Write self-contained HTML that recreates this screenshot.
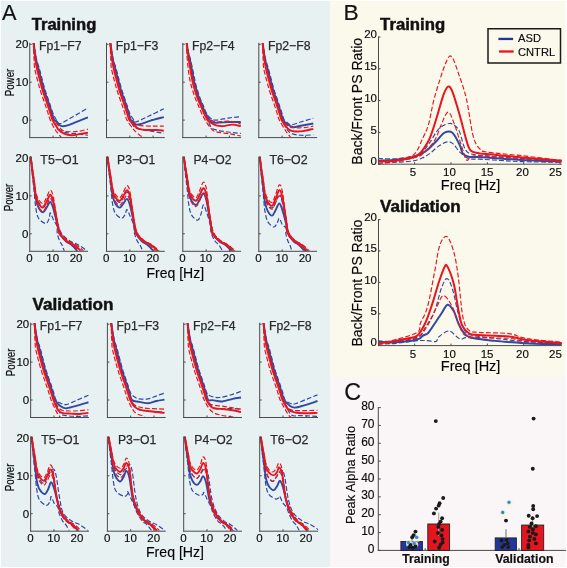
<!DOCTYPE html>
<html><head><meta charset="utf-8"><style>
html,body{margin:0;padding:0;background:#fff;}
svg{display:block;will-change:transform}
text{font-family:"Liberation Sans", sans-serif;}
</style></head><body>
<svg width="567" height="568" viewBox="0 0 567 568">
<rect x="1.00" y="1.00" width="329.00" height="566.00" fill="#e8f1f2"/>
<rect x="330.00" y="1.00" width="236.00" height="377.00" fill="#fbf8ec"/>
<rect x="330.00" y="377.50" width="236.00" height="189.50" fill="#faf6f7"/>
<text x="2.00" y="20.00" font-size="22.5" text-anchor="start" textLength="14.5" lengthAdjust="spacingAndGlyphs" fill="#111" stroke="#111" stroke-width="0.18">A</text>
<text x="343.40" y="19.50" font-size="22.5" text-anchor="start" textLength="15.2" lengthAdjust="spacingAndGlyphs" fill="#111" stroke="#111" stroke-width="0.18">B</text>
<text x="344.20" y="399.80" font-size="24" text-anchor="start" textLength="16.8" lengthAdjust="spacingAndGlyphs" fill="#111" stroke="#111" stroke-width="0.18">C</text>
<text x="31.70" y="29.50" font-size="15.6" text-anchor="start" font-weight="bold" textLength="64.6" lengthAdjust="spacingAndGlyphs" fill="#111" stroke="#111" stroke-width="0.45">Training</text>
<clipPath id="c1"><rect x="30.25" y="43.10" width="58.00" height="93.90"/></clipPath>
<path d="M33.48,42.03 C33.75,43.67 34.55,48.85 35.09,51.88 C35.63,54.91 36.04,57.56 36.71,60.22 C37.38,62.87 38.41,65.33 39.13,67.80 C39.86,70.26 40.40,72.54 41.05,75.00 C41.70,77.46 42.35,80.05 43.03,82.58 C43.71,85.11 44.35,87.63 45.13,90.16 C45.90,92.69 46.84,95.25 47.69,97.74 C48.55,100.23 49.40,102.56 50.25,105.09 C51.11,107.62 51.88,110.59 52.82,112.90 C53.75,115.21 55.07,117.42 55.85,118.96 C56.62,120.51 56.66,121.43 57.48,122.18 C58.29,122.94 58.37,124.30 60.74,123.51 C63.11,122.72 67.15,120.04 71.69,117.45 C76.23,114.86 85.28,109.55 88.00,107.97" fill="none" stroke="#3049a3" stroke-width="1.2" stroke-dasharray="4.8 2.2" clip-path="url(#c1)"/>
<path d="M33.48,42.03 C33.66,43.67 34.20,48.85 34.57,51.88 C34.93,54.91 35.20,57.56 35.65,60.22 C36.11,62.87 36.71,65.33 37.28,67.80 C37.85,70.26 38.44,72.54 39.07,75.00 C39.70,77.46 40.37,80.05 41.05,82.58 C41.73,85.11 42.37,87.63 43.15,90.16 C43.92,92.69 44.86,95.25 45.71,97.74 C46.56,100.23 47.42,102.56 48.27,105.09 C49.13,107.62 50.02,110.40 50.84,112.90 C51.65,115.40 52.10,117.64 53.17,120.10 C54.23,122.56 55.90,125.91 57.24,127.68 C58.58,129.45 59.69,129.89 61.20,130.71 C62.72,131.53 63.81,132.10 66.33,132.61 C68.86,133.11 72.74,133.30 76.35,133.74 C79.96,134.19 86.06,135.01 88.00,135.26" fill="none" stroke="#3049a3" stroke-width="1.2" stroke-dasharray="4.8 2.2" clip-path="url(#c1)"/>
<path d="M33.48,42.03 C33.71,43.67 34.39,48.85 34.84,51.88 C35.30,54.91 35.64,57.56 36.21,60.22 C36.78,62.87 37.61,65.33 38.26,67.80 C38.91,70.26 39.48,72.54 40.12,75.00 C40.76,77.46 41.42,80.05 42.10,82.58 C42.78,85.11 43.42,87.63 44.20,90.16 C44.97,92.69 45.90,95.25 46.76,97.74 C47.61,100.23 48.47,102.56 49.32,105.09 C50.18,107.62 51.07,110.40 51.89,112.90 C52.70,115.40 53.44,118.71 54.22,120.10 C54.99,121.49 55.81,120.54 56.55,121.24 C57.28,121.93 57.75,123.45 58.64,124.27 C59.54,125.09 60.43,125.97 61.90,126.16 C63.38,126.35 64.93,126.16 67.50,125.41 C70.06,124.65 73.86,122.94 77.28,121.62 C80.70,120.29 86.21,118.14 88.00,117.45" fill="none" stroke="#3049a3" stroke-width="1.9" stroke-linejoin="round" clip-path="url(#c1)"/>
<path d="M33.48,42.03 C33.67,43.67 34.27,48.85 34.66,51.88 C35.05,54.91 35.35,57.56 35.84,60.22 C36.33,62.87 37.01,65.33 37.61,67.80 C38.21,70.26 38.79,72.54 39.42,75.00 C40.05,77.46 40.72,80.05 41.40,82.58 C42.08,85.11 42.72,87.63 43.50,90.16 C44.27,92.69 45.21,95.25 46.06,97.74 C46.91,100.23 47.77,102.56 48.62,105.09 C49.48,107.62 50.37,110.40 51.19,112.90 C52.00,115.40 52.58,118.33 53.52,120.10 C54.45,121.87 55.50,121.99 56.78,123.51 C58.06,125.03 59.61,127.87 61.20,129.20 C62.80,130.52 63.65,131.09 66.33,131.47 C69.01,131.85 73.67,131.85 77.28,131.47 C80.89,131.09 86.21,129.57 88.00,129.20" fill="none" stroke="#e8141e" stroke-width="1.2" stroke-dasharray="4.8 2.2" clip-path="url(#c1)"/>
<path d="M33.48,42.03 C33.53,43.67 33.69,48.85 33.79,51.88 C33.89,54.91 33.97,57.56 34.10,60.22 C34.23,62.87 34.22,65.33 34.57,67.80 C34.91,70.26 35.56,72.54 36.16,75.00 C36.75,77.46 37.46,80.05 38.14,82.58 C38.82,85.11 39.46,87.63 40.23,90.16 C41.01,92.69 41.94,95.25 42.80,97.74 C43.65,100.23 44.51,102.56 45.36,105.09 C46.22,107.62 47.11,110.40 47.92,112.90 C48.74,115.40 49.01,117.26 50.25,120.10 C51.50,122.94 53.63,127.17 55.38,129.95 C57.13,132.73 59.19,135.13 60.74,136.78 C62.29,138.42 60.16,139.30 64.70,139.81 C69.24,140.31 84.12,139.81 88.00,139.81" fill="none" stroke="#e8141e" stroke-width="1.2" stroke-dasharray="4.8 2.2" clip-path="url(#c1)"/>
<path d="M33.48,42.03 C33.63,43.67 34.10,48.85 34.41,51.88 C34.72,54.91 34.95,57.56 35.34,60.22 C35.73,62.87 36.22,65.33 36.74,67.80 C37.26,70.26 37.87,72.54 38.49,75.00 C39.11,77.46 39.79,80.05 40.47,82.58 C41.15,85.11 41.79,87.63 42.56,90.16 C43.34,92.69 44.27,95.25 45.13,97.74 C45.98,100.23 46.84,102.56 47.69,105.09 C48.55,107.62 49.44,110.40 50.25,112.90 C51.07,115.40 51.61,117.95 52.58,120.10 C53.55,122.25 55.07,124.14 56.08,125.78 C57.09,127.43 57.32,128.63 58.64,129.95 C59.96,131.28 61.83,132.86 64.00,133.74 C66.18,134.63 69.13,135.20 71.69,135.26 C74.25,135.32 76.66,134.57 79.38,134.12 C82.10,133.68 86.56,132.86 88.00,132.61" fill="none" stroke="#e8141e" stroke-width="1.9" stroke-linejoin="round" clip-path="url(#c1)"/>
<line x1="29.75" y1="42.80" x2="29.75" y2="138.10" stroke="#4a4a4a" stroke-width="1"/>
<line x1="29.25" y1="137.60" x2="88.05" y2="137.60" stroke="#4a4a4a" stroke-width="1"/>
<line x1="29.75" y1="44.30" x2="31.75" y2="44.30" stroke="#4a4a4a" stroke-width="1"/>
<line x1="29.75" y1="82.20" x2="31.75" y2="82.20" stroke="#4a4a4a" stroke-width="1"/>
<line x1="29.75" y1="120.10" x2="31.75" y2="120.10" stroke="#4a4a4a" stroke-width="1"/>
<line x1="53.05" y1="137.60" x2="53.05" y2="135.60" stroke="#4a4a4a" stroke-width="1"/>
<line x1="76.35" y1="137.60" x2="76.35" y2="135.60" stroke="#4a4a4a" stroke-width="1"/>
<text x="60.25" y="50.20" font-size="12.5" text-anchor="middle" textLength="42.6" lengthAdjust="spacingAndGlyphs" fill="#2a2a2a" stroke="#2a2a2a" stroke-width="0.25">Fp1−F7</text>
<text x="28.30" y="48.40" font-size="11.5" text-anchor="end" stroke="#353535" stroke-width="0.18">20</text>
<text x="28.30" y="86.30" font-size="11.5" text-anchor="end" stroke="#353535" stroke-width="0.18">10</text>
<text x="28.30" y="124.20" font-size="11.5" text-anchor="end" stroke="#353535" stroke-width="0.18">0</text>
<text x="13.70" y="82.50" font-size="12" text-anchor="middle" textLength="27.7" lengthAdjust="spacingAndGlyphs" transform="rotate(-90 13.70 82.50)" stroke="#353535" stroke-width="0.18">Power</text>
<clipPath id="c2"><rect x="107.00" y="43.10" width="58.00" height="93.90"/></clipPath>
<path d="M110.23,42.03 C110.50,43.67 111.30,48.85 111.84,51.88 C112.38,54.91 112.79,57.56 113.46,60.22 C114.13,62.87 115.16,65.33 115.88,67.80 C116.61,70.26 117.15,72.54 117.80,75.00 C118.45,77.46 119.10,80.05 119.78,82.58 C120.46,85.11 121.10,87.63 121.88,90.16 C122.65,92.69 123.59,95.25 124.44,97.74 C125.30,100.23 126.15,102.56 127.00,105.09 C127.86,107.62 128.52,110.52 129.57,112.90 C130.62,115.27 132.29,117.83 133.30,119.34 C134.30,120.86 133.10,122.50 135.62,122.00 C138.15,121.49 143.74,118.52 148.44,116.31 C153.14,114.10 161.25,109.99 163.82,108.73" fill="none" stroke="#3049a3" stroke-width="1.2" stroke-dasharray="4.8 2.2" clip-path="url(#c2)"/>
<path d="M110.23,42.03 C110.41,43.67 110.95,48.85 111.32,51.88 C111.68,54.91 111.95,57.56 112.40,60.22 C112.86,62.87 113.46,65.33 114.03,67.80 C114.60,70.26 115.19,72.54 115.82,75.00 C116.45,77.46 117.12,80.05 117.80,82.58 C118.48,85.11 119.12,87.63 119.90,90.16 C120.67,92.69 121.61,95.25 122.46,97.74 C123.31,100.23 124.17,102.56 125.02,105.09 C125.88,107.62 126.77,110.40 127.59,112.90 C128.40,115.40 128.97,117.95 129.92,120.10 C130.87,122.25 132.15,124.40 133.30,125.78 C134.44,127.17 134.27,127.62 136.79,128.44 C139.31,129.26 143.94,129.89 148.44,130.71 C152.94,131.53 161.25,132.92 163.82,133.37" fill="none" stroke="#3049a3" stroke-width="1.2" stroke-dasharray="4.8 2.2" clip-path="url(#c2)"/>
<path d="M110.23,42.03 C110.46,43.67 111.14,48.85 111.59,51.88 C112.05,54.91 112.39,57.56 112.96,60.22 C113.53,62.87 114.36,65.33 115.01,67.80 C115.66,70.26 116.23,72.54 116.87,75.00 C117.51,77.46 118.17,80.05 118.85,82.58 C119.53,85.11 120.17,87.63 120.95,90.16 C121.72,92.69 122.65,95.25 123.51,97.74 C124.36,100.23 125.22,102.56 126.07,105.09 C126.93,107.62 127.82,110.40 128.63,112.90 C129.45,115.40 130.19,118.71 130.97,120.10 C131.74,121.49 132.52,120.48 133.30,121.24 C134.07,121.99 134.27,124.21 135.62,124.65 C136.98,125.09 139.08,124.52 141.45,123.89 C143.82,123.26 146.11,121.99 149.84,120.86 C153.57,119.72 161.49,117.70 163.82,117.07" fill="none" stroke="#3049a3" stroke-width="1.9" stroke-linejoin="round" clip-path="url(#c2)"/>
<path d="M110.23,42.03 C110.42,43.67 111.02,48.85 111.41,51.88 C111.80,54.91 112.10,57.56 112.59,60.22 C113.08,62.87 113.76,65.33 114.36,67.80 C114.96,70.26 115.54,72.54 116.17,75.00 C116.80,77.46 117.47,80.05 118.15,82.58 C118.83,85.11 119.47,87.63 120.25,90.16 C121.02,92.69 121.96,95.25 122.81,97.74 C123.66,100.23 124.52,102.56 125.37,105.09 C126.23,107.62 127.12,110.40 127.94,112.90 C128.75,115.40 129.37,118.52 130.27,120.10 C131.16,121.68 131.82,121.49 133.30,122.37 C134.77,123.26 135.82,124.77 139.12,125.41 C142.42,126.04 148.98,126.04 153.10,126.16 C157.22,126.29 162.03,126.16 163.82,126.16" fill="none" stroke="#e8141e" stroke-width="1.2" stroke-dasharray="4.8 2.2" clip-path="url(#c2)"/>
<path d="M110.23,42.03 C110.28,43.67 110.44,48.85 110.54,51.88 C110.64,54.91 110.72,57.56 110.85,60.22 C110.98,62.87 110.97,65.33 111.32,67.80 C111.66,70.26 112.31,72.54 112.91,75.00 C113.50,77.46 114.21,80.05 114.89,82.58 C115.57,85.11 116.21,87.63 116.98,90.16 C117.76,92.69 118.69,95.25 119.55,97.74 C120.40,100.23 121.26,102.56 122.11,105.09 C122.97,107.62 123.86,110.40 124.67,112.90 C125.49,115.40 125.57,117.38 127.00,120.10 C128.44,122.82 131.66,127.11 133.30,129.20 C134.93,131.28 134.93,131.22 136.79,132.61 C138.65,134.00 139.82,136.46 144.48,137.53 C149.14,138.61 161.37,138.80 164.75,139.05" fill="none" stroke="#e8141e" stroke-width="1.2" stroke-dasharray="4.8 2.2" clip-path="url(#c2)"/>
<path d="M110.23,42.03 C110.38,43.67 110.85,48.85 111.16,51.88 C111.47,54.91 111.70,57.56 112.09,60.22 C112.48,62.87 112.97,65.33 113.49,67.80 C114.01,70.26 114.62,72.54 115.24,75.00 C115.86,77.46 116.54,80.05 117.22,82.58 C117.90,85.11 118.54,87.63 119.31,90.16 C120.09,92.69 121.02,95.25 121.88,97.74 C122.73,100.23 123.59,102.56 124.44,105.09 C125.30,107.62 126.19,110.40 127.00,112.90 C127.82,115.40 128.32,118.33 129.33,120.10 C130.34,121.87 131.97,122.37 133.06,123.51 C134.15,124.65 134.85,126.04 135.86,126.92 C136.87,127.81 137.41,128.31 139.12,128.82 C140.83,129.32 143.16,129.76 146.11,129.95 C149.06,130.14 153.88,129.83 156.83,129.95 C159.78,130.08 162.65,130.59 163.82,130.71" fill="none" stroke="#e8141e" stroke-width="1.9" stroke-linejoin="round" clip-path="url(#c2)"/>
<line x1="106.50" y1="42.80" x2="106.50" y2="138.10" stroke="#4a4a4a" stroke-width="1"/>
<line x1="106.00" y1="137.60" x2="164.80" y2="137.60" stroke="#4a4a4a" stroke-width="1"/>
<line x1="106.50" y1="44.30" x2="108.50" y2="44.30" stroke="#4a4a4a" stroke-width="1"/>
<line x1="106.50" y1="82.20" x2="108.50" y2="82.20" stroke="#4a4a4a" stroke-width="1"/>
<line x1="106.50" y1="120.10" x2="108.50" y2="120.10" stroke="#4a4a4a" stroke-width="1"/>
<line x1="129.80" y1="137.60" x2="129.80" y2="135.60" stroke="#4a4a4a" stroke-width="1"/>
<line x1="153.10" y1="137.60" x2="153.10" y2="135.60" stroke="#4a4a4a" stroke-width="1"/>
<text x="137.00" y="50.20" font-size="12.5" text-anchor="middle" textLength="42.6" lengthAdjust="spacingAndGlyphs" fill="#2a2a2a" stroke="#2a2a2a" stroke-width="0.25">Fp1−F3</text>
<clipPath id="c3"><rect x="183.30" y="43.10" width="58.00" height="93.90"/></clipPath>
<path d="M186.53,42.03 C186.80,43.54 187.47,48.12 188.14,51.12 C188.82,54.12 189.61,56.05 190.57,60.03 C191.52,64.01 193.03,71.05 193.87,75.00 C194.71,78.95 195.01,81.19 195.62,83.72 C196.22,86.24 196.74,87.76 197.48,90.16 C198.22,92.56 199.11,95.63 200.04,98.12 C200.97,100.61 202.02,102.63 203.07,105.09 C204.12,107.56 205.01,110.65 206.33,112.90 C207.65,115.15 209.36,117.38 210.99,118.58 C212.62,119.78 213.05,120.23 216.12,120.10 C219.19,119.97 225.28,118.39 229.40,117.83 C233.52,117.26 238.91,116.88 240.82,116.69" fill="none" stroke="#3049a3" stroke-width="1.2" stroke-dasharray="4.8 2.2" clip-path="url(#c3)"/>
<path d="M186.53,42.03 C186.71,43.54 187.16,48.12 187.62,51.12 C188.07,54.12 188.53,56.05 189.25,60.03 C189.96,64.01 191.16,71.05 191.89,75.00 C192.62,78.95 193.03,81.19 193.63,83.72 C194.24,86.24 194.76,87.76 195.50,90.16 C196.24,92.56 197.13,95.63 198.06,98.12 C198.99,100.61 200.04,102.63 201.09,105.09 C202.14,107.56 203.19,110.40 204.35,112.90 C205.52,115.40 206.97,117.76 208.08,120.10 C209.19,122.44 209.65,125.28 210.99,126.92 C212.33,128.56 213.05,129.07 216.12,129.95 C219.19,130.84 225.28,131.66 229.40,132.23 C233.52,132.80 238.91,133.18 240.82,133.37" fill="none" stroke="#3049a3" stroke-width="1.2" stroke-dasharray="4.8 2.2" clip-path="url(#c3)"/>
<path d="M186.53,42.03 C186.76,43.54 187.33,48.12 187.89,51.12 C188.46,54.12 189.11,56.05 189.95,60.03 C190.79,64.01 192.15,71.05 192.94,75.00 C193.73,78.95 194.08,81.19 194.68,83.72 C195.28,86.24 195.81,87.76 196.55,90.16 C197.28,92.56 198.18,95.63 199.11,98.12 C200.04,100.61 201.09,102.63 202.14,105.09 C203.19,107.56 203.93,110.21 205.40,112.90 C206.88,115.59 209.21,119.59 210.99,121.24 C212.78,122.88 213.05,122.63 216.12,122.75 C219.19,122.88 225.28,122.12 229.40,122.00 C233.52,121.87 238.91,122.00 240.82,122.00" fill="none" stroke="#3049a3" stroke-width="1.9" stroke-linejoin="round" clip-path="url(#c3)"/>
<path d="M186.53,42.03 C186.72,43.54 187.22,48.12 187.71,51.12 C188.20,54.12 188.72,56.05 189.48,60.03 C190.23,64.01 191.49,71.05 192.24,75.00 C192.99,78.95 193.38,81.19 193.98,83.72 C194.59,86.24 195.11,87.76 195.85,90.16 C196.59,92.56 197.48,95.63 198.41,98.12 C199.34,100.61 200.39,102.63 201.44,105.09 C202.49,107.56 203.54,110.40 204.70,112.90 C205.87,115.40 207.38,118.90 208.43,120.10 C209.48,121.30 209.71,119.78 210.99,120.10 C212.27,120.42 213.05,121.81 216.12,122.00 C219.19,122.18 225.28,120.92 229.40,121.24 C233.52,121.55 238.91,123.45 240.82,123.89" fill="none" stroke="#e8141e" stroke-width="1.2" stroke-dasharray="4.8 2.2" clip-path="url(#c3)"/>
<path d="M186.53,42.03 C186.58,43.54 186.71,48.12 186.84,51.12 C186.97,54.12 186.95,56.05 187.30,60.03 C187.66,64.01 188.40,71.05 188.97,75.00 C189.54,78.95 190.12,81.19 190.72,83.72 C191.32,86.24 191.85,87.76 192.59,90.16 C193.32,92.56 194.22,95.63 195.15,98.12 C196.08,100.61 197.13,102.63 198.18,105.09 C199.23,107.56 200.28,110.40 201.44,112.90 C202.60,115.40 203.58,117.51 205.17,120.10 C206.76,122.69 209.17,126.48 210.99,128.44 C212.82,130.40 213.05,130.96 216.12,131.85 C219.19,132.73 225.28,133.05 229.40,133.74 C233.52,134.44 238.91,135.64 240.82,136.02" fill="none" stroke="#e8141e" stroke-width="1.2" stroke-dasharray="4.8 2.2" clip-path="url(#c3)"/>
<path d="M186.53,42.03 C186.68,43.54 187.07,48.12 187.46,51.12 C187.85,54.12 188.22,56.05 188.86,60.03 C189.50,64.01 190.61,71.05 191.30,75.00 C192.00,78.95 192.45,81.19 193.05,83.72 C193.65,86.24 194.18,87.76 194.92,90.16 C195.65,92.56 196.55,95.63 197.48,98.12 C198.41,100.61 199.46,102.63 200.51,105.09 C201.56,107.56 202.61,110.40 203.77,112.90 C204.94,115.40 206.29,118.46 207.50,120.10 C208.70,121.74 209.56,121.87 210.99,122.75 C212.43,123.64 214.06,124.84 216.12,125.41 C218.18,125.97 220.66,126.29 223.34,126.16 C226.02,126.04 229.28,124.65 232.20,124.65 C235.11,124.65 239.38,125.91 240.82,126.16" fill="none" stroke="#e8141e" stroke-width="1.9" stroke-linejoin="round" clip-path="url(#c3)"/>
<line x1="182.80" y1="42.80" x2="182.80" y2="138.10" stroke="#4a4a4a" stroke-width="1"/>
<line x1="182.30" y1="137.60" x2="241.10" y2="137.60" stroke="#4a4a4a" stroke-width="1"/>
<line x1="182.80" y1="44.30" x2="184.80" y2="44.30" stroke="#4a4a4a" stroke-width="1"/>
<line x1="182.80" y1="82.20" x2="184.80" y2="82.20" stroke="#4a4a4a" stroke-width="1"/>
<line x1="182.80" y1="120.10" x2="184.80" y2="120.10" stroke="#4a4a4a" stroke-width="1"/>
<line x1="206.10" y1="137.60" x2="206.10" y2="135.60" stroke="#4a4a4a" stroke-width="1"/>
<line x1="229.40" y1="137.60" x2="229.40" y2="135.60" stroke="#4a4a4a" stroke-width="1"/>
<text x="213.30" y="50.20" font-size="12.5" text-anchor="middle" textLength="42.6" lengthAdjust="spacingAndGlyphs" fill="#2a2a2a" stroke="#2a2a2a" stroke-width="0.25">Fp2−F4</text>
<clipPath id="c4"><rect x="259.30" y="43.10" width="58.00" height="93.90"/></clipPath>
<path d="M262.53,42.03 C262.80,43.67 263.60,48.85 264.14,51.88 C264.68,54.91 265.09,57.56 265.76,60.22 C266.43,62.87 267.46,65.33 268.18,67.80 C268.91,70.26 269.45,72.54 270.10,75.00 C270.75,77.46 271.40,80.05 272.08,82.58 C272.76,85.11 273.40,87.63 274.18,90.16 C274.95,92.69 275.89,95.25 276.74,97.74 C277.60,100.23 278.45,102.56 279.30,105.09 C280.16,107.62 281.05,110.40 281.87,112.90 C282.68,115.40 283.38,118.52 284.20,120.10 C285.01,121.68 285.56,121.62 286.76,122.37 C287.96,123.13 289.09,124.71 291.42,124.65 C293.75,124.58 297.09,123.07 300.74,122.00 C304.39,120.92 311.23,118.84 313.32,118.20" fill="none" stroke="#3049a3" stroke-width="1.2" stroke-dasharray="4.8 2.2" clip-path="url(#c4)"/>
<path d="M262.53,42.03 C262.71,43.67 263.25,48.85 263.62,51.88 C263.98,54.91 264.25,57.56 264.70,60.22 C265.16,62.87 265.76,65.33 266.33,67.80 C266.90,70.26 267.49,72.54 268.12,75.00 C268.75,77.46 269.42,80.05 270.10,82.58 C270.78,85.11 271.42,87.63 272.20,90.16 C272.97,92.69 273.91,95.25 274.76,97.74 C275.61,100.23 276.47,102.56 277.32,105.09 C278.18,107.62 279.07,110.40 279.89,112.90 C280.70,115.40 281.07,117.38 282.22,120.10 C283.36,122.82 285.23,126.99 286.76,129.20 C288.29,131.41 289.09,132.35 291.42,133.37 C293.75,134.38 297.09,135.01 300.74,135.26 C304.39,135.51 311.23,134.94 313.32,134.88" fill="none" stroke="#3049a3" stroke-width="1.2" stroke-dasharray="4.8 2.2" clip-path="url(#c4)"/>
<path d="M262.53,42.03 C262.76,43.67 263.44,48.85 263.89,51.88 C264.35,54.91 264.69,57.56 265.26,60.22 C265.83,62.87 266.66,65.33 267.31,67.80 C267.96,70.26 268.53,72.54 269.17,75.00 C269.81,77.46 270.47,80.05 271.15,82.58 C271.83,85.11 272.47,87.63 273.25,90.16 C274.02,92.69 274.95,95.25 275.81,97.74 C276.66,100.23 277.52,102.56 278.37,105.09 C279.23,107.62 280.12,110.40 280.94,112.90 C281.75,115.40 282.29,118.27 283.26,120.10 C284.24,121.93 285.13,122.72 286.76,123.89 C288.39,125.06 290.72,126.80 293.05,127.11 C295.38,127.43 297.36,126.39 300.74,125.78 C304.12,125.18 311.23,123.89 313.32,123.51" fill="none" stroke="#3049a3" stroke-width="1.9" stroke-linejoin="round" clip-path="url(#c4)"/>
<path d="M262.53,42.03 C262.72,43.67 263.32,48.85 263.71,51.88 C264.10,54.91 264.40,57.56 264.89,60.22 C265.38,62.87 266.06,65.33 266.66,67.80 C267.26,70.26 267.84,72.54 268.47,75.00 C269.10,77.46 269.77,80.05 270.45,82.58 C271.13,85.11 271.77,87.63 272.55,90.16 C273.32,92.69 274.26,95.25 275.11,97.74 C275.96,100.23 276.82,102.56 277.67,105.09 C278.53,107.62 279.42,110.40 280.24,112.90 C281.05,115.40 281.48,118.08 282.57,120.10 C283.65,122.12 285.09,123.76 286.76,125.03 C288.43,126.29 289.87,127.24 292.59,127.68 C295.30,128.12 299.61,127.93 303.07,127.68 C306.53,127.43 311.61,126.42 313.32,126.16" fill="none" stroke="#e8141e" stroke-width="1.2" stroke-dasharray="4.8 2.2" clip-path="url(#c4)"/>
<path d="M262.53,42.03 C262.58,43.67 262.74,48.85 262.84,51.88 C262.94,54.91 263.02,57.56 263.15,60.22 C263.28,62.87 263.27,65.33 263.62,67.80 C263.96,70.26 264.61,72.54 265.21,75.00 C265.80,77.46 266.51,80.05 267.19,82.58 C267.87,85.11 268.51,87.63 269.29,90.16 C270.06,92.69 270.99,95.25 271.85,97.74 C272.70,100.23 273.56,102.56 274.41,105.09 C275.27,107.62 276.16,110.40 276.97,112.90 C277.79,115.40 277.87,117.13 279.30,120.10 C280.74,123.07 283.96,128.19 285.60,130.71 C287.23,133.24 287.73,133.87 289.09,135.26 C290.45,136.65 289.71,138.42 293.75,139.05 C297.79,139.68 310.06,139.05 313.32,139.05" fill="none" stroke="#e8141e" stroke-width="1.2" stroke-dasharray="4.8 2.2" clip-path="url(#c4)"/>
<path d="M262.53,42.03 C262.68,43.67 263.15,48.85 263.46,51.88 C263.77,54.91 264.00,57.56 264.39,60.22 C264.78,62.87 265.27,65.33 265.79,67.80 C266.31,70.26 266.92,72.54 267.54,75.00 C268.16,77.46 268.84,80.05 269.52,82.58 C270.20,85.11 270.84,87.63 271.62,90.16 C272.39,92.69 273.32,95.25 274.18,97.74 C275.03,100.23 275.89,102.56 276.74,105.09 C277.60,107.62 278.49,110.40 279.30,112.90 C280.12,115.40 280.39,117.70 281.63,120.10 C282.88,122.50 285.32,125.60 286.76,127.30 C288.20,129.01 288.78,129.64 290.25,130.33 C291.73,131.03 293.48,131.34 295.61,131.47 C297.75,131.60 300.12,131.53 303.07,131.09 C306.02,130.65 311.61,129.20 313.32,128.82" fill="none" stroke="#e8141e" stroke-width="1.9" stroke-linejoin="round" clip-path="url(#c4)"/>
<line x1="258.80" y1="42.80" x2="258.80" y2="138.10" stroke="#4a4a4a" stroke-width="1"/>
<line x1="258.30" y1="137.60" x2="317.10" y2="137.60" stroke="#4a4a4a" stroke-width="1"/>
<line x1="258.80" y1="44.30" x2="260.80" y2="44.30" stroke="#4a4a4a" stroke-width="1"/>
<line x1="258.80" y1="82.20" x2="260.80" y2="82.20" stroke="#4a4a4a" stroke-width="1"/>
<line x1="258.80" y1="120.10" x2="260.80" y2="120.10" stroke="#4a4a4a" stroke-width="1"/>
<line x1="282.10" y1="137.60" x2="282.10" y2="135.60" stroke="#4a4a4a" stroke-width="1"/>
<line x1="305.40" y1="137.60" x2="305.40" y2="135.60" stroke="#4a4a4a" stroke-width="1"/>
<text x="289.30" y="50.20" font-size="12.5" text-anchor="middle" textLength="42.6" lengthAdjust="spacingAndGlyphs" fill="#2a2a2a" stroke="#2a2a2a" stroke-width="0.25">Fp2−F8</text>
<clipPath id="c5"><rect x="30.25" y="156.80" width="58.00" height="93.90"/></clipPath>
<path d="M30.22,152.31 C30.53,154.83 31.42,162.45 32.08,167.38 C32.74,172.32 33.56,177.43 34.18,181.91 C34.80,186.40 35.07,190.93 35.81,194.29 C36.55,197.66 37.40,200.12 38.60,202.10 C39.81,204.07 41.71,206.23 43.03,206.13 C44.35,206.04 45.32,203.23 46.53,201.53 C47.73,199.82 49.13,195.76 50.25,195.90 C51.38,196.04 52.16,198.12 53.28,202.34 C54.41,206.57 55.65,216.11 57.01,221.26 C58.37,226.40 59.29,229.94 61.44,233.23 C63.59,236.52 67.13,239.07 69.91,241.00 C72.70,242.93 75.40,243.15 78.14,244.79 C80.88,246.43 84.42,248.58 86.37,250.86 C88.32,253.13 89.28,257.17 89.86,258.44" fill="none" stroke="#3049a3" stroke-width="1.2" stroke-dasharray="4.8 2.2" clip-path="url(#c5)"/>
<path d="M30.22,152.31 C30.53,155.64 31.42,165.73 32.08,172.27 C32.74,178.80 33.56,185.57 34.18,191.50 C34.80,197.44 35.07,203.44 35.81,207.89 C36.55,212.34 36.97,215.61 38.60,218.22 C40.23,220.84 43.85,223.47 45.59,223.57 C47.34,223.66 48.31,220.56 49.09,218.79 C49.87,217.02 49.56,212.85 50.25,212.95 C50.95,213.06 52.16,217.16 53.28,219.40 C54.41,221.63 56.35,224.07 57.01,226.37 C57.67,228.68 56.81,230.79 57.24,233.23 C57.68,235.67 58.84,239.07 59.62,241.00 C60.40,242.93 61.16,243.15 61.93,244.79 C62.70,246.43 63.27,248.58 64.23,250.86 C65.20,253.13 67.15,257.17 67.73,258.44" fill="none" stroke="#3049a3" stroke-width="1.2" stroke-dasharray="4.8 2.2" clip-path="url(#c5)"/>
<path d="M30.22,152.31 C30.53,155.11 31.42,163.59 32.08,169.08 C32.74,174.57 33.56,180.26 34.18,185.25 C34.80,190.24 35.07,195.28 35.81,199.02 C36.55,202.77 37.40,205.51 38.60,207.71 C39.81,209.90 41.71,212.22 43.03,212.20 C44.35,212.18 45.32,209.30 46.53,207.59 C47.73,205.89 49.13,201.83 50.25,201.96 C51.38,202.10 52.16,204.89 53.28,208.41 C54.41,211.93 55.88,218.94 57.01,223.07 C58.14,227.21 58.57,230.24 60.04,233.23 C61.51,236.22 63.92,239.07 65.82,241.00 C67.72,242.93 69.57,243.15 71.44,244.79 C73.31,246.43 75.53,248.58 77.05,250.86 C78.57,253.13 79.96,257.17 80.54,258.44" fill="none" stroke="#3049a3" stroke-width="1.9" stroke-linejoin="round" clip-path="url(#c5)"/>
<path d="M30.22,152.31 C30.53,154.70 31.42,161.95 32.08,166.64 C32.74,171.33 33.56,176.19 34.18,180.46 C34.80,184.72 35.07,189.03 35.81,192.22 C36.55,195.42 37.40,197.77 38.60,199.64 C39.81,201.52 41.71,203.84 43.03,203.48 C44.35,203.12 45.32,199.72 46.53,197.51 C47.73,195.30 49.13,190.36 50.25,190.22 C51.38,190.07 52.16,191.77 53.28,196.66 C54.41,201.55 55.77,213.45 57.01,219.55 C58.25,225.65 58.84,229.66 60.74,233.23 C62.64,236.81 65.90,239.07 68.42,241.00 C70.95,242.93 73.40,243.15 75.88,244.79 C78.37,246.43 81.51,248.58 83.34,250.86 C85.17,253.13 86.25,257.17 86.84,258.44" fill="none" stroke="#e8141e" stroke-width="1.2" stroke-dasharray="4.8 2.2" clip-path="url(#c5)"/>
<path d="M30.22,152.31 C30.53,155.07 31.42,163.45 32.08,168.87 C32.74,174.29 33.56,179.91 34.18,184.83 C34.80,189.76 35.07,194.74 35.81,198.43 C36.55,202.13 37.40,204.84 38.60,207.00 C39.81,209.17 41.71,211.67 43.03,211.44 C44.35,211.21 45.32,207.79 46.53,205.64 C47.73,203.49 49.13,198.66 50.25,198.55 C51.38,198.45 52.16,201.08 53.28,205.00 C54.41,208.91 56.08,217.35 57.01,222.05 C57.94,226.76 57.44,230.07 58.88,233.23 C60.31,236.39 63.40,239.07 65.61,241.00 C67.82,242.93 69.97,243.15 72.14,244.79 C74.32,246.43 77.01,248.58 78.68,250.86 C80.35,253.13 81.59,257.17 82.18,258.44" fill="none" stroke="#e8141e" stroke-width="1.2" stroke-dasharray="4.8 2.2" clip-path="url(#c5)"/>
<path d="M30.22,152.31 C30.53,154.90 31.42,162.74 32.08,167.81 C32.74,172.88 33.56,178.14 34.18,182.75 C34.80,187.36 35.07,192.02 35.81,195.48 C36.55,198.93 37.40,201.47 38.60,203.50 C39.81,205.53 41.71,207.92 43.03,207.65 C44.35,207.37 45.32,204.00 46.53,201.85 C47.73,199.70 49.13,194.87 50.25,194.76 C51.38,194.66 52.16,196.85 53.28,201.21 C54.41,205.56 55.96,215.58 57.01,220.91 C58.06,226.25 57.95,229.88 59.57,233.23 C61.20,236.58 64.42,239.07 66.78,241.00 C69.15,242.93 71.45,243.15 73.78,244.79 C76.11,246.43 79.03,248.58 80.78,250.86 C82.53,253.13 83.69,257.17 84.27,258.44" fill="none" stroke="#e8141e" stroke-width="1.9" stroke-linejoin="round" clip-path="url(#c5)"/>
<line x1="29.75" y1="156.50" x2="29.75" y2="251.80" stroke="#4a4a4a" stroke-width="1"/>
<line x1="29.25" y1="251.30" x2="88.05" y2="251.30" stroke="#4a4a4a" stroke-width="1"/>
<line x1="29.75" y1="158.00" x2="31.75" y2="158.00" stroke="#4a4a4a" stroke-width="1"/>
<line x1="29.75" y1="195.90" x2="31.75" y2="195.90" stroke="#4a4a4a" stroke-width="1"/>
<line x1="29.75" y1="233.80" x2="31.75" y2="233.80" stroke="#4a4a4a" stroke-width="1"/>
<line x1="53.05" y1="251.30" x2="53.05" y2="249.30" stroke="#4a4a4a" stroke-width="1"/>
<line x1="76.35" y1="251.30" x2="76.35" y2="249.30" stroke="#4a4a4a" stroke-width="1"/>
<text x="59.45" y="163.90" font-size="12.5" text-anchor="middle" textLength="38.2" lengthAdjust="spacingAndGlyphs" fill="#2a2a2a" stroke="#2a2a2a" stroke-width="0.25">T5−O1</text>
<text x="28.30" y="162.10" font-size="11.5" text-anchor="end" stroke="#353535" stroke-width="0.18">20</text>
<text x="28.30" y="200.00" font-size="11.5" text-anchor="end" stroke="#353535" stroke-width="0.18">10</text>
<text x="28.30" y="237.90" font-size="11.5" text-anchor="end" stroke="#353535" stroke-width="0.18">0</text>
<text x="13.30" y="197.50" font-size="12" text-anchor="middle" textLength="27.7" lengthAdjust="spacingAndGlyphs" transform="rotate(-90 13.30 197.50)" stroke="#353535" stroke-width="0.18">Power</text>
<text x="29.45" y="261.90" font-size="11.5" text-anchor="middle" stroke="#353535" stroke-width="0.18">0</text>
<text x="52.75" y="261.90" font-size="11.5" text-anchor="middle" stroke="#353535" stroke-width="0.18">10</text>
<text x="76.05" y="261.90" font-size="11.5" text-anchor="middle" stroke="#353535" stroke-width="0.18">20</text>
<clipPath id="c6"><rect x="107.00" y="156.80" width="58.00" height="93.90"/></clipPath>
<path d="M106.97,152.31 C107.28,154.65 108.17,161.74 108.83,166.32 C109.49,170.91 110.31,175.66 110.93,179.83 C111.55,184.00 111.82,188.21 112.56,191.34 C113.30,194.46 114.15,196.76 115.35,198.59 C116.56,200.43 118.46,202.49 119.78,202.34 C121.10,202.20 122.07,199.44 123.28,197.74 C124.48,196.03 125.88,191.97 127.00,192.11 C128.13,192.25 128.91,193.88 130.03,198.55 C131.16,203.22 132.56,214.34 133.76,220.12 C134.96,225.90 135.51,229.75 137.26,233.23 C139.00,236.71 141.94,239.07 144.23,241.00 C146.52,242.93 148.74,243.15 150.99,244.79 C153.25,246.43 156.05,248.58 157.76,250.86 C159.47,253.13 160.67,257.17 161.25,258.44" fill="none" stroke="#3049a3" stroke-width="1.2" stroke-dasharray="4.8 2.2" clip-path="url(#c6)"/>
<path d="M106.97,152.31 C107.28,155.39 108.17,164.73 108.83,170.78 C109.49,176.82 110.31,183.09 110.93,188.59 C111.55,194.08 111.82,199.63 112.56,203.75 C113.30,207.87 113.84,210.90 115.35,213.32 C116.87,215.73 120.01,218.09 121.64,218.26 C123.28,218.43 124.25,215.79 125.14,214.34 C126.03,212.89 126.19,209.27 127.00,209.54 C127.82,209.82 128.91,213.35 130.03,215.99 C131.16,218.62 133.02,222.47 133.76,225.35 C134.50,228.22 133.88,230.62 134.46,233.23 C135.04,235.84 136.32,239.07 137.23,241.00 C138.14,242.93 139.03,243.15 139.92,244.79 C140.82,246.43 141.58,248.58 142.62,250.86 C143.65,253.13 145.53,257.17 146.11,258.44" fill="none" stroke="#3049a3" stroke-width="1.2" stroke-dasharray="4.8 2.2" clip-path="url(#c6)"/>
<path d="M106.97,152.31 C107.28,154.90 108.17,162.74 108.83,167.81 C109.49,172.88 110.31,178.14 110.93,182.75 C111.55,187.36 111.82,192.02 112.56,195.48 C113.30,198.93 114.15,201.47 115.35,203.50 C116.56,205.53 118.46,207.61 119.78,207.65 C121.10,207.69 122.07,205.18 123.28,203.73 C124.48,202.27 125.88,198.66 127.00,198.93 C128.13,199.21 128.91,201.50 130.03,205.38 C131.16,209.25 132.79,217.52 133.76,222.16 C134.73,226.81 134.53,230.09 135.86,233.23 C137.18,236.37 139.79,239.07 141.72,241.00 C143.65,242.93 145.51,243.15 147.41,244.79 C149.31,246.43 151.57,248.58 153.10,250.86 C154.63,253.13 156.01,257.17 156.59,258.44" fill="none" stroke="#3049a3" stroke-width="1.9" stroke-linejoin="round" clip-path="url(#c6)"/>
<path d="M106.97,152.31 C107.28,154.44 108.17,160.88 108.83,165.05 C109.49,169.22 110.31,173.54 110.93,177.33 C111.55,181.12 111.82,184.95 112.56,187.79 C113.30,190.63 114.15,192.72 115.35,194.38 C116.56,196.05 118.46,198.14 119.78,197.80 C121.10,197.45 122.07,194.36 123.28,192.34 C124.48,190.32 125.88,185.70 127.00,185.67 C128.13,185.63 128.91,186.69 130.03,192.11 C131.16,197.53 132.52,211.33 133.76,218.19 C135.00,225.04 135.65,229.43 137.49,233.23 C139.33,237.03 142.38,239.07 144.78,241.00 C147.17,242.93 149.49,243.15 151.85,244.79 C154.21,246.43 157.16,248.58 158.93,250.86 C160.69,253.13 161.84,257.17 162.42,258.44" fill="none" stroke="#e8141e" stroke-width="1.2" stroke-dasharray="4.8 2.2" clip-path="url(#c6)"/>
<path d="M106.97,152.31 C107.28,154.79 108.17,162.31 108.83,167.17 C109.49,172.04 110.31,177.08 110.93,181.50 C111.55,185.92 111.82,190.39 112.56,193.70 C113.30,197.02 114.15,199.45 115.35,201.40 C116.56,203.34 118.46,205.48 119.78,205.38 C121.10,205.27 122.07,202.48 123.28,200.77 C124.48,199.06 125.88,195.01 127.00,195.14 C128.13,195.28 128.91,197.27 130.03,201.59 C131.16,205.90 132.83,215.75 133.76,221.03 C134.69,226.30 134.19,229.90 135.62,233.23 C137.06,236.56 140.15,239.07 142.36,241.00 C144.57,242.93 146.72,243.15 148.89,244.79 C151.07,246.43 153.76,248.58 155.43,250.86 C157.10,253.13 158.34,257.17 158.93,258.44" fill="none" stroke="#e8141e" stroke-width="1.2" stroke-dasharray="4.8 2.2" clip-path="url(#c6)"/>
<path d="M106.97,152.31 C107.28,154.58 108.17,161.45 108.83,165.90 C109.49,170.35 110.31,174.95 110.93,179.00 C111.55,183.04 111.82,187.12 112.56,190.15 C113.30,193.19 114.15,195.41 115.35,197.19 C116.56,198.97 118.46,201.02 119.78,200.83 C121.10,200.64 122.07,197.82 123.28,196.05 C124.48,194.28 125.88,190.11 127.00,190.22 C128.13,190.32 128.91,191.77 130.03,196.66 C131.16,201.55 132.71,213.45 133.76,219.55 C134.81,225.65 134.70,229.66 136.32,233.23 C137.95,236.81 141.17,239.07 143.53,241.00 C145.90,242.93 148.20,243.15 150.53,244.79 C152.86,246.43 155.78,248.58 157.53,250.86 C159.28,253.13 160.44,257.17 161.02,258.44" fill="none" stroke="#e8141e" stroke-width="1.9" stroke-linejoin="round" clip-path="url(#c6)"/>
<line x1="106.50" y1="156.50" x2="106.50" y2="251.80" stroke="#4a4a4a" stroke-width="1"/>
<line x1="106.00" y1="251.30" x2="164.80" y2="251.30" stroke="#4a4a4a" stroke-width="1"/>
<line x1="106.50" y1="158.00" x2="108.50" y2="158.00" stroke="#4a4a4a" stroke-width="1"/>
<line x1="106.50" y1="195.90" x2="108.50" y2="195.90" stroke="#4a4a4a" stroke-width="1"/>
<line x1="106.50" y1="233.80" x2="108.50" y2="233.80" stroke="#4a4a4a" stroke-width="1"/>
<line x1="129.80" y1="251.30" x2="129.80" y2="249.30" stroke="#4a4a4a" stroke-width="1"/>
<line x1="153.10" y1="251.30" x2="153.10" y2="249.30" stroke="#4a4a4a" stroke-width="1"/>
<text x="136.20" y="163.90" font-size="12.5" text-anchor="middle" textLength="38.2" lengthAdjust="spacingAndGlyphs" fill="#2a2a2a" stroke="#2a2a2a" stroke-width="0.25">P3−O1</text>
<text x="106.20" y="261.90" font-size="11.5" text-anchor="middle" stroke="#353535" stroke-width="0.18">0</text>
<text x="129.50" y="261.90" font-size="11.5" text-anchor="middle" stroke="#353535" stroke-width="0.18">10</text>
<text x="152.80" y="261.90" font-size="11.5" text-anchor="middle" stroke="#353535" stroke-width="0.18">20</text>
<clipPath id="c7"><rect x="183.30" y="156.80" width="58.00" height="93.90"/></clipPath>
<path d="M183.27,152.31 C183.58,154.56 184.47,161.38 185.13,165.79 C185.79,170.20 186.61,174.78 187.23,178.79 C187.85,182.80 188.12,186.85 188.86,189.86 C189.60,192.87 190.45,195.07 191.65,196.84 C192.86,198.60 194.76,200.76 196.08,200.45 C197.40,200.14 198.37,197.01 199.58,194.99 C200.78,192.97 202.18,188.36 203.30,188.32 C204.43,188.28 205.21,189.65 206.33,194.76 C207.46,199.87 208.82,212.57 210.06,218.98 C211.30,225.39 212.02,229.56 213.79,233.23 C215.56,236.90 218.42,239.07 220.68,241.00 C222.94,242.93 225.14,243.15 227.37,244.79 C229.60,246.43 232.36,248.58 234.06,250.86 C235.76,253.13 236.97,257.17 237.56,258.44" fill="none" stroke="#3049a3" stroke-width="1.2" stroke-dasharray="4.8 2.2" clip-path="url(#c7)"/>
<path d="M183.27,152.31 C183.58,155.48 184.47,165.09 185.13,171.31 C185.79,177.53 186.61,183.97 187.23,189.63 C187.85,195.28 188.12,200.99 188.86,205.23 C189.60,209.47 190.18,212.58 191.65,215.07 C193.13,217.56 196.12,220.44 197.71,220.16 C199.30,219.87 200.28,215.86 201.21,213.33 C202.14,210.81 202.45,205.31 203.30,205.00 C204.16,204.68 205.21,208.27 206.33,211.44 C207.46,214.60 209.25,220.35 210.06,223.98 C210.88,227.62 210.40,230.40 211.23,233.23 C212.05,236.07 213.78,239.07 215.03,241.00 C216.28,242.93 217.49,243.15 218.72,244.79 C219.95,246.43 221.21,248.58 222.41,250.86 C223.61,253.13 225.32,257.17 225.91,258.44" fill="none" stroke="#3049a3" stroke-width="1.2" stroke-dasharray="4.8 2.2" clip-path="url(#c7)"/>
<path d="M183.27,152.31 C183.58,154.77 184.47,162.24 185.13,167.07 C185.79,171.89 186.61,176.90 187.23,181.29 C187.85,185.68 188.12,190.11 188.86,193.41 C189.60,196.70 190.45,199.11 191.65,201.04 C192.86,202.98 194.76,205.19 196.08,205.00 C197.40,204.80 198.37,201.77 199.58,199.88 C200.78,197.98 202.18,193.59 203.30,193.63 C204.43,193.66 205.21,195.58 206.33,200.07 C207.46,204.56 209.01,215.05 210.06,220.57 C211.11,226.10 211.14,229.83 212.62,233.23 C214.11,236.64 216.88,239.07 218.96,241.00 C221.04,242.93 223.06,243.15 225.11,244.79 C227.16,246.43 229.66,248.58 231.26,250.86 C232.87,253.13 234.18,257.17 234.76,258.44" fill="none" stroke="#3049a3" stroke-width="1.9" stroke-linejoin="round" clip-path="url(#c7)"/>
<path d="M183.27,152.31 C183.58,154.44 184.47,160.88 185.13,165.05 C185.79,169.22 186.61,173.54 187.23,177.33 C187.85,181.12 188.12,184.95 188.86,187.79 C189.60,190.63 190.45,192.72 191.65,194.38 C192.86,196.05 194.76,198.39 196.08,197.80 C197.40,197.20 198.37,193.39 199.58,190.80 C200.78,188.21 202.18,182.61 203.30,182.26 C204.43,181.91 205.21,182.88 206.33,188.70 C207.46,194.52 208.82,209.74 210.06,217.16 C211.30,224.58 211.98,229.26 213.79,233.23 C215.60,237.20 218.58,239.07 220.92,241.00 C223.26,242.93 225.53,243.15 227.84,244.79 C230.15,246.43 233.02,248.58 234.76,250.86 C236.49,253.13 237.67,257.17 238.25,258.44" fill="none" stroke="#e8141e" stroke-width="1.2" stroke-dasharray="4.8 2.2" clip-path="url(#c7)"/>
<path d="M183.27,152.31 C183.58,154.84 184.47,162.52 185.13,167.49 C185.79,172.46 186.61,177.61 187.23,182.12 C187.85,186.64 188.12,191.20 188.86,194.59 C189.60,197.98 190.45,200.46 191.65,202.45 C192.86,204.43 194.76,206.86 196.08,206.51 C197.40,206.17 198.37,202.65 199.58,200.37 C200.78,198.10 202.18,193.04 203.30,192.87 C204.43,192.69 205.21,194.73 206.33,199.31 C207.46,203.89 209.13,214.69 210.06,220.35 C210.99,226.00 210.49,229.79 211.93,233.23 C213.36,236.67 216.45,239.07 218.66,241.00 C220.87,242.93 223.02,243.15 225.19,244.79 C227.37,246.43 230.06,248.58 231.73,250.86 C233.40,253.13 234.64,257.17 235.23,258.44" fill="none" stroke="#e8141e" stroke-width="1.2" stroke-dasharray="4.8 2.2" clip-path="url(#c7)"/>
<path d="M183.27,152.31 C183.58,154.58 184.47,161.45 185.13,165.90 C185.79,170.35 186.61,174.95 187.23,179.00 C187.85,183.04 188.12,187.12 188.86,190.15 C189.60,193.19 190.45,195.41 191.65,197.19 C192.86,198.97 194.76,201.16 196.08,200.83 C197.40,200.50 198.37,197.28 199.58,195.20 C200.78,193.11 202.18,188.39 203.30,188.32 C204.43,188.25 205.21,189.65 206.33,194.76 C207.46,199.87 209.01,212.57 210.06,218.98 C211.11,225.39 211.00,229.56 212.62,233.23 C214.25,236.90 217.47,239.07 219.83,241.00 C222.20,242.93 224.50,243.15 226.83,244.79 C229.16,246.43 232.08,248.58 233.83,250.86 C235.58,253.13 236.74,257.17 237.32,258.44" fill="none" stroke="#e8141e" stroke-width="1.9" stroke-linejoin="round" clip-path="url(#c7)"/>
<line x1="182.80" y1="156.50" x2="182.80" y2="251.80" stroke="#4a4a4a" stroke-width="1"/>
<line x1="182.30" y1="251.30" x2="241.10" y2="251.30" stroke="#4a4a4a" stroke-width="1"/>
<line x1="182.80" y1="158.00" x2="184.80" y2="158.00" stroke="#4a4a4a" stroke-width="1"/>
<line x1="182.80" y1="195.90" x2="184.80" y2="195.90" stroke="#4a4a4a" stroke-width="1"/>
<line x1="182.80" y1="233.80" x2="184.80" y2="233.80" stroke="#4a4a4a" stroke-width="1"/>
<line x1="206.10" y1="251.30" x2="206.10" y2="249.30" stroke="#4a4a4a" stroke-width="1"/>
<line x1="229.40" y1="251.30" x2="229.40" y2="249.30" stroke="#4a4a4a" stroke-width="1"/>
<text x="212.50" y="163.90" font-size="12.5" text-anchor="middle" textLength="38.2" lengthAdjust="spacingAndGlyphs" fill="#2a2a2a" stroke="#2a2a2a" stroke-width="0.25">P4−O2</text>
<text x="182.50" y="261.90" font-size="11.5" text-anchor="middle" stroke="#353535" stroke-width="0.18">0</text>
<text x="205.80" y="261.90" font-size="11.5" text-anchor="middle" stroke="#353535" stroke-width="0.18">10</text>
<text x="229.10" y="261.90" font-size="11.5" text-anchor="middle" stroke="#353535" stroke-width="0.18">20</text>
<clipPath id="c8"><rect x="259.30" y="156.80" width="58.00" height="93.90"/></clipPath>
<path d="M259.27,152.31 C259.58,154.91 260.47,162.81 261.13,167.91 C261.79,173.02 262.61,178.31 263.23,182.96 C263.85,187.60 264.12,192.29 264.86,195.77 C265.60,199.25 266.45,201.81 267.65,203.85 C268.86,205.89 270.76,208.24 272.08,208.03 C273.40,207.81 274.37,204.59 275.58,202.57 C276.78,200.55 278.18,195.94 279.30,195.90 C280.43,195.86 281.21,198.12 282.33,202.34 C283.46,206.57 284.93,216.11 286.06,221.26 C287.19,226.40 287.53,229.94 289.09,233.23 C290.65,236.52 293.35,239.07 295.43,241.00 C297.51,242.93 299.53,243.15 301.58,244.79 C303.63,246.43 306.12,248.58 307.73,250.86 C309.34,253.13 310.64,257.17 311.23,258.44" fill="none" stroke="#3049a3" stroke-width="1.2" stroke-dasharray="4.8 2.2" clip-path="url(#c8)"/>
<path d="M259.27,152.31 C259.58,155.80 260.47,166.38 261.13,173.22 C261.79,180.06 262.61,187.16 263.23,193.38 C263.85,199.60 264.12,205.89 264.86,210.55 C265.60,215.22 266.18,218.64 267.65,221.38 C269.13,224.12 272.12,226.70 273.71,226.98 C275.30,227.26 276.27,224.51 277.21,223.06 C278.14,221.60 278.45,217.99 279.30,218.26 C280.16,218.54 281.21,223.09 282.33,224.70 C283.46,226.32 285.48,226.54 286.06,227.96 C286.64,229.38 285.52,231.06 285.83,233.23 C286.13,235.40 287.21,239.07 287.89,241.00 C288.56,242.93 289.22,243.15 289.89,244.79 C290.55,246.43 290.97,248.58 291.89,250.86 C292.80,253.13 294.80,257.17 295.38,258.44" fill="none" stroke="#3049a3" stroke-width="1.2" stroke-dasharray="4.8 2.2" clip-path="url(#c8)"/>
<path d="M259.27,152.31 C259.58,155.27 260.47,164.24 261.13,170.04 C261.79,175.84 262.61,181.85 263.23,187.13 C263.85,192.40 264.12,197.73 264.86,201.68 C265.60,205.64 266.45,208.54 267.65,210.86 C268.86,213.18 270.76,215.73 272.08,215.61 C273.40,215.49 274.37,212.17 275.58,210.15 C276.78,208.13 278.18,203.52 279.30,203.48 C280.43,203.44 281.21,206.58 282.33,209.92 C283.46,213.26 285.17,219.64 286.06,223.53 C286.95,227.41 286.48,230.32 287.69,233.23 C288.90,236.14 291.47,239.07 293.32,241.00 C295.16,242.93 296.96,243.15 298.78,244.79 C300.60,246.43 302.74,248.58 304.24,250.86 C305.73,253.13 307.15,257.17 307.73,258.44" fill="none" stroke="#3049a3" stroke-width="1.9" stroke-linejoin="round" clip-path="url(#c8)"/>
<path d="M259.27,152.31 C259.58,154.65 260.47,161.74 261.13,166.32 C261.79,170.91 262.61,175.66 263.23,179.83 C263.85,184.00 264.12,188.21 264.86,191.34 C265.60,194.46 266.45,196.76 267.65,198.59 C268.86,200.43 270.76,203.03 272.08,202.34 C273.40,201.66 274.37,197.40 275.58,194.50 C276.78,191.59 278.18,185.43 279.30,184.91 C280.43,184.38 281.21,185.84 282.33,191.35 C283.46,196.86 284.93,210.98 286.06,217.96 C287.19,224.94 287.45,229.39 289.09,233.23 C290.73,237.07 293.67,239.07 295.90,241.00 C298.14,242.93 300.31,243.15 302.52,244.79 C304.72,246.43 307.44,248.58 309.13,250.86 C310.81,253.13 312.04,257.17 312.62,258.44" fill="none" stroke="#e8141e" stroke-width="1.2" stroke-dasharray="4.8 2.2" clip-path="url(#c8)"/>
<path d="M259.27,152.31 C259.58,154.97 260.47,163.02 261.13,168.23 C261.79,173.44 262.61,178.85 263.23,183.58 C263.85,188.32 264.12,193.10 264.86,196.66 C265.60,200.21 266.45,202.82 267.65,204.90 C268.86,206.99 270.76,209.56 272.08,209.16 C273.40,208.77 274.37,204.98 275.58,202.51 C276.78,200.05 278.18,194.67 279.30,194.38 C280.43,194.10 281.21,196.42 282.33,200.83 C283.46,205.23 285.21,215.40 286.06,220.80 C286.92,226.20 286.24,229.86 287.46,233.23 C288.68,236.60 291.45,239.07 293.40,241.00 C295.35,242.93 297.25,243.15 299.17,244.79 C301.09,246.43 303.39,248.58 304.93,250.86 C306.48,253.13 307.85,257.17 308.43,258.44" fill="none" stroke="#e8141e" stroke-width="1.2" stroke-dasharray="4.8 2.2" clip-path="url(#c8)"/>
<path d="M259.27,152.31 C259.58,154.81 260.47,162.38 261.13,167.28 C261.79,172.18 262.61,177.25 263.23,181.71 C263.85,186.16 264.12,190.66 264.86,194.00 C265.60,197.34 266.45,199.79 267.65,201.75 C268.86,203.71 270.76,206.25 272.08,205.75 C273.40,205.26 274.37,201.35 275.58,198.76 C276.78,196.17 278.18,190.57 279.30,190.22 C280.43,189.86 281.21,191.77 282.33,196.66 C283.46,201.55 285.13,213.45 286.06,219.55 C286.99,225.65 286.54,229.66 287.93,233.23 C289.31,236.81 292.23,239.07 294.34,241.00 C296.45,242.93 298.49,243.15 300.57,244.79 C302.65,246.43 305.18,248.58 306.80,250.86 C308.42,253.13 309.71,257.17 310.29,258.44" fill="none" stroke="#e8141e" stroke-width="1.9" stroke-linejoin="round" clip-path="url(#c8)"/>
<line x1="258.80" y1="156.50" x2="258.80" y2="251.80" stroke="#4a4a4a" stroke-width="1"/>
<line x1="258.30" y1="251.30" x2="317.10" y2="251.30" stroke="#4a4a4a" stroke-width="1"/>
<line x1="258.80" y1="158.00" x2="260.80" y2="158.00" stroke="#4a4a4a" stroke-width="1"/>
<line x1="258.80" y1="195.90" x2="260.80" y2="195.90" stroke="#4a4a4a" stroke-width="1"/>
<line x1="258.80" y1="233.80" x2="260.80" y2="233.80" stroke="#4a4a4a" stroke-width="1"/>
<line x1="282.10" y1="251.30" x2="282.10" y2="249.30" stroke="#4a4a4a" stroke-width="1"/>
<line x1="305.40" y1="251.30" x2="305.40" y2="249.30" stroke="#4a4a4a" stroke-width="1"/>
<text x="288.50" y="163.90" font-size="12.5" text-anchor="middle" textLength="38.2" lengthAdjust="spacingAndGlyphs" fill="#2a2a2a" stroke="#2a2a2a" stroke-width="0.25">T6−O2</text>
<text x="258.50" y="261.90" font-size="11.5" text-anchor="middle" stroke="#353535" stroke-width="0.18">0</text>
<text x="281.80" y="261.90" font-size="11.5" text-anchor="middle" stroke="#353535" stroke-width="0.18">10</text>
<text x="305.10" y="261.90" font-size="11.5" text-anchor="middle" stroke="#353535" stroke-width="0.18">20</text>
<text x="175.30" y="277.60" font-size="14.5" text-anchor="middle" textLength="57.6" lengthAdjust="spacingAndGlyphs" stroke="#353535" stroke-width="0.18">Freq [Hz]</text>
<text x="32.60" y="310.30" font-size="15.6" text-anchor="start" font-weight="bold" textLength="80.8" lengthAdjust="spacingAndGlyphs" fill="#111" stroke="#111" stroke-width="0.45">Validation</text>
<clipPath id="c9"><rect x="31.15" y="323.00" width="58.00" height="93.90"/></clipPath>
<path d="M34.38,321.93 C34.65,323.57 35.45,328.75 35.99,331.78 C36.53,334.81 36.94,337.46 37.61,340.12 C38.28,342.77 39.31,345.23 40.03,347.70 C40.76,350.16 41.30,352.44 41.95,354.90 C42.60,357.36 43.25,359.95 43.93,362.48 C44.61,365.01 45.25,367.53 46.03,370.06 C46.80,372.59 47.74,375.15 48.59,377.64 C49.45,380.13 50.30,382.46 51.15,384.99 C52.01,387.52 52.90,390.30 53.72,392.80 C54.53,395.30 54.88,398.26 56.05,400.00 C57.21,401.74 59.00,402.46 60.71,403.22 C62.42,403.98 63.54,405.08 66.30,404.55 C69.06,404.01 73.56,401.55 77.25,400.00 C80.94,398.45 86.57,396.05 88.43,395.26" fill="none" stroke="#3049a3" stroke-width="1.2" stroke-dasharray="4.8 2.2" clip-path="url(#c9)"/>
<path d="M34.38,321.93 C34.56,323.57 35.10,328.75 35.47,331.78 C35.83,334.81 36.10,337.46 36.55,340.12 C37.01,342.77 37.61,345.23 38.18,347.70 C38.75,350.16 39.34,352.44 39.97,354.90 C40.60,357.36 41.27,359.95 41.95,362.48 C42.63,365.01 43.27,367.53 44.05,370.06 C44.82,372.59 45.76,375.15 46.61,377.64 C47.46,380.13 48.32,382.46 49.17,384.99 C50.03,387.52 50.92,390.30 51.74,392.80 C52.55,395.30 52.92,397.22 54.07,400.00 C55.21,402.78 57.27,407.01 58.61,409.48 C59.95,411.94 59.31,413.64 62.11,414.78 C64.90,415.92 71.00,416.11 75.39,416.30 C79.77,416.49 86.26,415.98 88.43,415.92" fill="none" stroke="#3049a3" stroke-width="1.2" stroke-dasharray="4.8 2.2" clip-path="url(#c9)"/>
<path d="M34.38,321.93 C34.61,323.57 35.29,328.75 35.74,331.78 C36.20,334.81 36.54,337.46 37.11,340.12 C37.68,342.77 38.51,345.23 39.16,347.70 C39.81,350.16 40.38,352.44 41.02,354.90 C41.66,357.36 42.32,359.95 43.00,362.48 C43.68,365.01 44.32,367.53 45.10,370.06 C45.87,372.59 46.80,375.15 47.66,377.64 C48.51,380.13 49.37,382.46 50.22,384.99 C51.08,387.52 51.97,390.30 52.78,392.80 C53.60,395.30 53.87,397.79 55.11,400.00 C56.36,402.21 58.49,404.67 60.24,406.06 C61.99,407.45 63.08,408.34 65.60,408.34 C68.12,408.34 71.58,407.07 75.39,406.06 C79.19,405.05 86.26,402.91 88.43,402.27" fill="none" stroke="#3049a3" stroke-width="1.9" stroke-linejoin="round" clip-path="url(#c9)"/>
<path d="M34.38,321.93 C34.57,323.57 35.17,328.75 35.56,331.78 C35.95,334.81 36.25,337.46 36.74,340.12 C37.23,342.77 37.91,345.23 38.51,347.70 C39.11,350.16 39.69,352.44 40.32,354.90 C40.95,357.36 41.62,359.95 42.30,362.48 C42.98,365.01 43.62,367.53 44.40,370.06 C45.17,372.59 46.11,375.15 46.96,377.64 C47.81,380.13 48.67,382.46 49.52,384.99 C50.38,387.52 51.27,390.30 52.09,392.80 C52.90,395.30 53.52,397.79 54.42,400.00 C55.31,402.21 56.16,404.36 57.45,406.06 C58.73,407.77 59.58,409.41 62.11,410.23 C64.63,411.05 68.20,411.05 72.59,410.99 C76.98,410.93 85.79,410.04 88.43,409.85" fill="none" stroke="#e8141e" stroke-width="1.2" stroke-dasharray="4.8 2.2" clip-path="url(#c9)"/>
<path d="M34.38,321.93 C34.43,323.57 34.59,328.75 34.69,331.78 C34.79,334.81 34.87,337.46 35.00,340.12 C35.13,342.77 35.12,345.23 35.47,347.70 C35.81,350.16 36.46,352.44 37.06,354.90 C37.65,357.36 38.36,359.95 39.04,362.48 C39.72,365.01 40.36,367.53 41.13,370.06 C41.91,372.59 42.84,375.15 43.70,377.64 C44.55,380.13 45.41,382.46 46.26,384.99 C47.12,387.52 48.01,390.30 48.82,392.80 C49.64,395.30 49.91,396.90 51.15,400.00 C52.40,403.10 54.77,408.53 56.28,411.37 C57.79,414.21 59.08,415.67 60.24,417.06 C61.41,418.44 58.49,419.27 63.27,419.71 C68.05,420.15 84.63,419.71 88.90,419.71" fill="none" stroke="#e8141e" stroke-width="1.2" stroke-dasharray="4.8 2.2" clip-path="url(#c9)"/>
<path d="M34.38,321.93 C34.53,323.57 35.00,328.75 35.31,331.78 C35.62,334.81 35.85,337.46 36.24,340.12 C36.63,342.77 37.12,345.23 37.64,347.70 C38.16,350.16 38.77,352.44 39.39,354.90 C40.01,357.36 40.69,359.95 41.37,362.48 C42.05,365.01 42.69,367.53 43.47,370.06 C44.24,372.59 45.17,375.15 46.03,377.64 C46.88,380.13 47.74,382.46 48.59,384.99 C49.45,387.52 50.34,390.30 51.15,392.80 C51.97,395.30 52.40,397.22 53.48,400.00 C54.57,402.78 56.24,407.33 57.68,409.48 C59.11,411.62 59.89,412.19 62.11,412.89 C64.32,413.58 68.05,413.45 70.96,413.64 C73.87,413.83 76.67,414.15 79.58,414.02 C82.49,413.90 86.96,413.08 88.43,412.89" fill="none" stroke="#e8141e" stroke-width="1.9" stroke-linejoin="round" clip-path="url(#c9)"/>
<line x1="30.65" y1="322.70" x2="30.65" y2="418.00" stroke="#4a4a4a" stroke-width="1"/>
<line x1="30.15" y1="417.50" x2="88.95" y2="417.50" stroke="#4a4a4a" stroke-width="1"/>
<line x1="30.65" y1="324.20" x2="32.65" y2="324.20" stroke="#4a4a4a" stroke-width="1"/>
<line x1="30.65" y1="362.10" x2="32.65" y2="362.10" stroke="#4a4a4a" stroke-width="1"/>
<line x1="30.65" y1="400.00" x2="32.65" y2="400.00" stroke="#4a4a4a" stroke-width="1"/>
<line x1="53.95" y1="417.50" x2="53.95" y2="415.50" stroke="#4a4a4a" stroke-width="1"/>
<line x1="77.25" y1="417.50" x2="77.25" y2="415.50" stroke="#4a4a4a" stroke-width="1"/>
<text x="61.15" y="330.10" font-size="12.5" text-anchor="middle" textLength="42.6" lengthAdjust="spacingAndGlyphs" fill="#2a2a2a" stroke="#2a2a2a" stroke-width="0.25">Fp1−F7</text>
<text x="29.20" y="328.30" font-size="11.5" text-anchor="end" stroke="#353535" stroke-width="0.18">20</text>
<text x="29.20" y="366.20" font-size="11.5" text-anchor="end" stroke="#353535" stroke-width="0.18">10</text>
<text x="29.20" y="404.10" font-size="11.5" text-anchor="end" stroke="#353535" stroke-width="0.18">0</text>
<text x="14.60" y="362.40" font-size="12" text-anchor="middle" textLength="27.7" lengthAdjust="spacingAndGlyphs" transform="rotate(-90 14.60 362.40)" stroke="#353535" stroke-width="0.18">Power</text>
<clipPath id="c10"><rect x="107.90" y="323.00" width="58.00" height="93.90"/></clipPath>
<path d="M111.13,321.93 C111.40,323.57 112.20,328.75 112.74,331.78 C113.28,334.81 113.69,337.46 114.36,340.12 C115.03,342.77 116.06,345.23 116.78,347.70 C117.51,350.16 118.05,352.44 118.70,354.90 C119.35,357.36 120.00,359.95 120.68,362.48 C121.36,365.01 122.00,367.53 122.78,370.06 C123.55,372.59 124.49,375.15 125.34,377.64 C126.20,380.13 127.05,382.46 127.90,384.99 C128.76,387.52 129.34,390.80 130.47,392.80 C131.59,394.80 133.22,395.96 134.66,396.97 C136.10,397.98 136.87,398.55 139.09,398.86 C141.30,399.18 145.03,399.37 147.94,398.86 C150.85,398.36 153.81,396.78 156.56,395.83 C159.32,394.88 163.16,393.62 164.49,393.18" fill="none" stroke="#3049a3" stroke-width="1.2" stroke-dasharray="4.8 2.2" clip-path="url(#c10)"/>
<path d="M111.13,321.93 C111.31,323.57 111.85,328.75 112.22,331.78 C112.58,334.81 112.85,337.46 113.30,340.12 C113.76,342.77 114.36,345.23 114.93,347.70 C115.50,350.16 116.09,352.44 116.72,354.90 C117.35,357.36 118.02,359.95 118.70,362.48 C119.38,365.01 120.02,367.53 120.80,370.06 C121.57,372.59 122.51,375.15 123.36,377.64 C124.21,380.13 125.07,382.46 125.92,384.99 C126.78,387.52 127.67,390.30 128.49,392.80 C129.30,395.30 129.28,397.28 130.82,400.00 C132.35,402.72 134.99,407.26 137.69,409.10 C140.39,410.93 142.54,410.49 147.01,410.99 C151.48,411.50 161.57,411.94 164.49,412.13" fill="none" stroke="#3049a3" stroke-width="1.2" stroke-dasharray="4.8 2.2" clip-path="url(#c10)"/>
<path d="M111.13,321.93 C111.36,323.57 112.04,328.75 112.49,331.78 C112.95,334.81 113.29,337.46 113.86,340.12 C114.43,342.77 115.26,345.23 115.91,347.70 C116.56,350.16 117.13,352.44 117.77,354.90 C118.41,357.36 119.07,359.95 119.75,362.48 C120.43,365.01 121.07,367.53 121.85,370.06 C122.62,372.59 123.55,375.15 124.41,377.64 C125.26,380.13 126.12,382.46 126.97,384.99 C127.83,387.52 128.72,390.30 129.53,392.80 C130.35,395.30 130.58,398.55 131.87,400.00 C133.15,401.45 134.54,400.94 137.22,401.48 C139.90,402.02 144.72,403.30 147.94,403.22 C151.17,403.14 153.81,401.59 156.56,400.99 C159.32,400.39 163.16,399.85 164.49,399.62" fill="none" stroke="#3049a3" stroke-width="1.9" stroke-linejoin="round" clip-path="url(#c10)"/>
<path d="M111.13,321.93 C111.32,323.57 111.92,328.75 112.31,331.78 C112.70,334.81 113.00,337.46 113.49,340.12 C113.98,342.77 114.66,345.23 115.26,347.70 C115.86,350.16 116.44,352.44 117.07,354.90 C117.70,357.36 118.37,359.95 119.05,362.48 C119.73,365.01 120.37,367.53 121.15,370.06 C121.92,372.59 122.86,375.15 123.71,377.64 C124.56,380.13 125.42,382.46 126.27,384.99 C127.13,387.52 128.02,390.30 128.84,392.80 C129.65,395.30 130.20,397.98 131.17,400.00 C132.14,402.02 132.60,403.60 134.66,404.93 C136.72,406.25 138.54,407.26 143.52,407.96 C148.49,408.65 160.99,408.91 164.49,409.10" fill="none" stroke="#e8141e" stroke-width="1.2" stroke-dasharray="4.8 2.2" clip-path="url(#c10)"/>
<path d="M111.13,321.93 C111.18,323.57 111.34,328.75 111.44,331.78 C111.54,334.81 111.62,337.46 111.75,340.12 C111.88,342.77 111.87,345.23 112.22,347.70 C112.56,350.16 113.21,352.44 113.81,354.90 C114.40,357.36 115.11,359.95 115.79,362.48 C116.47,365.01 117.11,367.53 117.89,370.06 C118.66,372.59 119.59,375.15 120.45,377.64 C121.30,380.13 122.16,382.46 123.01,384.99 C123.87,387.52 124.76,390.30 125.57,392.80 C126.39,395.30 126.39,396.78 127.90,400.00 C129.42,403.22 132.06,409.41 134.66,412.13 C137.26,414.84 141.46,415.16 143.52,416.30 C145.57,417.43 143.32,418.51 147.01,418.95 C150.70,419.39 162.54,418.95 165.65,418.95" fill="none" stroke="#e8141e" stroke-width="1.2" stroke-dasharray="4.8 2.2" clip-path="url(#c10)"/>
<path d="M111.13,321.93 C111.28,323.57 111.75,328.75 112.06,331.78 C112.37,334.81 112.60,337.46 112.99,340.12 C113.38,342.77 113.87,345.23 114.39,347.70 C114.91,350.16 115.52,352.44 116.14,354.90 C116.76,357.36 117.44,359.95 118.12,362.48 C118.80,365.01 119.44,367.53 120.22,370.06 C120.99,372.59 121.92,375.15 122.78,377.64 C123.63,380.13 124.49,382.46 125.34,384.99 C126.20,387.52 127.09,390.30 127.90,392.80 C128.72,395.30 129.11,397.66 130.23,400.00 C131.36,402.34 132.91,405.18 134.66,406.82 C136.41,408.46 138.51,409.16 140.72,409.85 C142.93,410.55 143.98,410.49 147.94,410.99 C151.90,411.50 161.73,412.57 164.49,412.89" fill="none" stroke="#e8141e" stroke-width="1.9" stroke-linejoin="round" clip-path="url(#c10)"/>
<line x1="107.40" y1="322.70" x2="107.40" y2="418.00" stroke="#4a4a4a" stroke-width="1"/>
<line x1="106.90" y1="417.50" x2="165.70" y2="417.50" stroke="#4a4a4a" stroke-width="1"/>
<line x1="107.40" y1="324.20" x2="109.40" y2="324.20" stroke="#4a4a4a" stroke-width="1"/>
<line x1="107.40" y1="362.10" x2="109.40" y2="362.10" stroke="#4a4a4a" stroke-width="1"/>
<line x1="107.40" y1="400.00" x2="109.40" y2="400.00" stroke="#4a4a4a" stroke-width="1"/>
<line x1="130.70" y1="417.50" x2="130.70" y2="415.50" stroke="#4a4a4a" stroke-width="1"/>
<line x1="154.00" y1="417.50" x2="154.00" y2="415.50" stroke="#4a4a4a" stroke-width="1"/>
<text x="137.90" y="330.10" font-size="12.5" text-anchor="middle" textLength="42.6" lengthAdjust="spacingAndGlyphs" fill="#2a2a2a" stroke="#2a2a2a" stroke-width="0.25">Fp1−F3</text>
<clipPath id="c11"><rect x="184.20" y="323.00" width="58.00" height="93.90"/></clipPath>
<path d="M187.43,321.93 C187.70,323.57 188.50,328.75 189.04,331.78 C189.58,334.81 189.99,337.46 190.66,340.12 C191.33,342.77 192.36,345.23 193.08,347.70 C193.81,350.16 194.35,352.44 195.00,354.90 C195.65,357.36 196.30,359.95 196.98,362.48 C197.66,365.01 198.30,367.53 199.08,370.06 C199.85,372.59 200.79,375.15 201.64,377.64 C202.50,380.13 203.35,382.46 204.20,384.99 C205.06,387.52 205.84,391.01 206.77,392.80 C207.70,394.59 207.70,394.93 209.80,395.72 C211.89,396.50 215.54,397.73 219.35,397.50 C223.15,397.26 229.02,395.35 232.63,394.31 C236.24,393.28 239.62,391.79 241.02,391.28" fill="none" stroke="#3049a3" stroke-width="1.2" stroke-dasharray="4.8 2.2" clip-path="url(#c11)"/>
<path d="M187.43,321.93 C187.61,323.57 188.15,328.75 188.52,331.78 C188.88,334.81 189.15,337.46 189.60,340.12 C190.06,342.77 190.66,345.23 191.23,347.70 C191.80,350.16 192.39,352.44 193.02,354.90 C193.65,357.36 194.32,359.95 195.00,362.48 C195.68,365.01 196.32,367.53 197.10,370.06 C197.87,372.59 198.81,375.15 199.66,377.64 C200.51,380.13 201.37,382.46 202.22,384.99 C203.08,387.52 203.97,390.30 204.79,392.80 C205.60,395.30 205.39,397.41 207.12,400.00 C208.84,402.59 211.06,406.95 215.16,408.34 C219.25,409.73 227.39,408.15 231.70,408.34 C236.01,408.53 239.46,409.29 241.02,409.48" fill="none" stroke="#3049a3" stroke-width="1.2" stroke-dasharray="4.8 2.2" clip-path="url(#c11)"/>
<path d="M187.43,321.93 C187.66,323.57 188.34,328.75 188.79,331.78 C189.25,334.81 189.59,337.46 190.16,340.12 C190.73,342.77 191.56,345.23 192.21,347.70 C192.86,350.16 193.43,352.44 194.07,354.90 C194.71,357.36 195.37,359.95 196.05,362.48 C196.73,365.01 197.37,367.53 198.15,370.06 C198.92,372.59 199.85,375.15 200.71,377.64 C201.56,380.13 202.42,382.46 203.27,384.99 C204.13,387.52 205.02,390.30 205.84,392.80 C206.65,395.30 207.08,398.78 208.17,400.00 C209.25,401.22 210.03,399.87 212.36,400.11 C214.69,400.35 218.77,401.65 222.15,401.44 C225.52,401.23 229.48,399.52 232.63,398.86 C235.78,398.21 239.62,397.73 241.02,397.50" fill="none" stroke="#3049a3" stroke-width="1.9" stroke-linejoin="round" clip-path="url(#c11)"/>
<path d="M187.43,321.93 C187.62,323.57 188.22,328.75 188.61,331.78 C189.00,334.81 189.30,337.46 189.79,340.12 C190.28,342.77 190.96,345.23 191.56,347.70 C192.16,350.16 192.74,352.44 193.37,354.90 C194.00,357.36 194.67,359.95 195.35,362.48 C196.03,365.01 196.67,367.53 197.45,370.06 C198.22,372.59 199.16,375.15 200.01,377.64 C200.86,380.13 201.72,382.46 202.57,384.99 C203.43,387.52 204.32,390.30 205.14,392.80 C205.95,395.30 206.42,398.04 207.47,400.00 C208.51,401.96 208.71,403.47 211.43,404.55 C214.15,405.62 218.84,405.69 223.78,406.44 C228.71,407.20 238.14,408.65 241.02,409.10" fill="none" stroke="#e8141e" stroke-width="1.2" stroke-dasharray="4.8 2.2" clip-path="url(#c11)"/>
<path d="M187.43,321.93 C187.48,323.57 187.64,328.75 187.74,331.78 C187.84,334.81 187.92,337.46 188.05,340.12 C188.18,342.77 188.17,345.23 188.52,347.70 C188.86,350.16 189.51,352.44 190.11,354.90 C190.70,357.36 191.41,359.95 192.09,362.48 C192.77,365.01 193.41,367.53 194.19,370.06 C194.96,372.59 195.89,375.15 196.75,377.64 C197.60,380.13 198.46,382.46 199.31,384.99 C200.17,387.52 201.06,390.30 201.87,392.80 C202.69,395.30 202.77,397.09 204.20,400.00 C205.64,402.91 207.97,407.77 210.50,410.23 C213.02,412.70 214.26,413.45 219.35,414.78 C224.44,416.11 237.41,417.62 241.02,418.19" fill="none" stroke="#e8141e" stroke-width="1.2" stroke-dasharray="4.8 2.2" clip-path="url(#c11)"/>
<path d="M187.43,321.93 C187.58,323.57 188.05,328.75 188.36,331.78 C188.67,334.81 188.90,337.46 189.29,340.12 C189.68,342.77 190.17,345.23 190.69,347.70 C191.21,350.16 191.82,352.44 192.44,354.90 C193.06,357.36 193.74,359.95 194.42,362.48 C195.10,365.01 195.74,367.53 196.52,370.06 C197.29,372.59 198.22,375.15 199.08,377.64 C199.93,380.13 200.79,382.46 201.64,384.99 C202.50,387.52 203.39,390.30 204.20,392.80 C205.02,395.30 205.17,397.54 206.53,400.00 C207.89,402.46 209.49,406.06 212.36,407.58 C215.23,409.10 220.40,408.65 223.78,409.10 C227.15,409.54 229.76,409.73 232.63,410.23 C235.50,410.74 239.62,411.81 241.02,412.13" fill="none" stroke="#e8141e" stroke-width="1.9" stroke-linejoin="round" clip-path="url(#c11)"/>
<line x1="183.70" y1="322.70" x2="183.70" y2="418.00" stroke="#4a4a4a" stroke-width="1"/>
<line x1="183.20" y1="417.50" x2="242.00" y2="417.50" stroke="#4a4a4a" stroke-width="1"/>
<line x1="183.70" y1="324.20" x2="185.70" y2="324.20" stroke="#4a4a4a" stroke-width="1"/>
<line x1="183.70" y1="362.10" x2="185.70" y2="362.10" stroke="#4a4a4a" stroke-width="1"/>
<line x1="183.70" y1="400.00" x2="185.70" y2="400.00" stroke="#4a4a4a" stroke-width="1"/>
<line x1="207.00" y1="417.50" x2="207.00" y2="415.50" stroke="#4a4a4a" stroke-width="1"/>
<line x1="230.30" y1="417.50" x2="230.30" y2="415.50" stroke="#4a4a4a" stroke-width="1"/>
<text x="214.20" y="330.10" font-size="12.5" text-anchor="middle" textLength="42.6" lengthAdjust="spacingAndGlyphs" fill="#2a2a2a" stroke="#2a2a2a" stroke-width="0.25">Fp2−F4</text>
<clipPath id="c12"><rect x="260.20" y="323.00" width="58.00" height="93.90"/></clipPath>
<path d="M263.43,321.93 C263.70,323.57 264.50,328.75 265.04,331.78 C265.58,334.81 265.99,337.46 266.66,340.12 C267.33,342.77 268.36,345.23 269.08,347.70 C269.81,350.16 270.35,352.44 271.00,354.90 C271.65,357.36 272.30,359.95 272.98,362.48 C273.66,365.01 274.30,367.53 275.08,370.06 C275.85,372.59 276.79,375.15 277.64,377.64 C278.50,380.13 279.35,382.46 280.20,384.99 C281.06,387.52 281.95,390.30 282.77,392.80 C283.58,395.30 283.89,398.26 285.10,400.00 C286.30,401.74 288.28,402.59 289.99,403.22 C291.70,403.85 292.44,404.52 295.35,403.79 C298.26,403.06 303.78,400.35 307.46,398.86 C311.15,397.37 315.81,395.52 317.48,394.85" fill="none" stroke="#3049a3" stroke-width="1.2" stroke-dasharray="4.8 2.2" clip-path="url(#c12)"/>
<path d="M263.43,321.93 C263.61,323.57 264.15,328.75 264.52,331.78 C264.88,334.81 265.15,337.46 265.60,340.12 C266.06,342.77 266.66,345.23 267.23,347.70 C267.80,350.16 268.39,352.44 269.02,354.90 C269.65,357.36 270.32,359.95 271.00,362.48 C271.68,365.01 272.32,367.53 273.10,370.06 C273.87,372.59 274.81,375.15 275.66,377.64 C276.51,380.13 277.37,382.46 278.22,384.99 C279.08,387.52 279.97,390.30 280.79,392.80 C281.60,395.30 281.39,396.34 283.12,400.00 C284.84,403.66 288.38,412.19 291.15,414.78 C293.93,417.37 295.39,415.29 299.78,415.54 C304.16,415.79 314.53,416.17 317.48,416.30" fill="none" stroke="#3049a3" stroke-width="1.2" stroke-dasharray="4.8 2.2" clip-path="url(#c12)"/>
<path d="M263.43,321.93 C263.66,323.57 264.34,328.75 264.79,331.78 C265.25,334.81 265.59,337.46 266.16,340.12 C266.73,342.77 267.56,345.23 268.21,347.70 C268.86,350.16 269.43,352.44 270.07,354.90 C270.71,357.36 271.37,359.95 272.05,362.48 C272.73,365.01 273.37,367.53 274.15,370.06 C274.92,372.59 275.85,375.15 276.71,377.64 C277.56,380.13 278.42,382.46 279.27,384.99 C280.13,387.52 281.02,390.30 281.83,392.80 C282.65,395.30 282.92,397.92 284.16,400.00 C285.41,402.08 287.54,404.04 289.29,405.31 C291.04,406.57 292.16,407.58 294.65,407.58 C297.14,407.58 300.40,406.40 304.20,405.31 C308.01,404.21 315.27,401.74 317.48,401.02" fill="none" stroke="#3049a3" stroke-width="1.9" stroke-linejoin="round" clip-path="url(#c12)"/>
<path d="M263.43,321.93 C263.62,323.57 264.22,328.75 264.61,331.78 C265.00,334.81 265.30,337.46 265.79,340.12 C266.28,342.77 266.96,345.23 267.56,347.70 C268.16,350.16 268.74,352.44 269.37,354.90 C270.00,357.36 270.67,359.95 271.35,362.48 C272.03,365.01 272.67,367.53 273.45,370.06 C274.22,372.59 275.16,375.15 276.01,377.64 C276.86,380.13 277.72,382.46 278.57,384.99 C279.43,387.52 280.32,390.30 281.14,392.80 C281.95,395.30 282.11,397.28 283.47,400.00 C284.83,402.72 286.57,407.33 289.29,409.10 C292.01,410.86 295.08,410.42 299.78,410.61 C304.47,410.80 314.53,410.30 317.48,410.23" fill="none" stroke="#e8141e" stroke-width="1.2" stroke-dasharray="4.8 2.2" clip-path="url(#c12)"/>
<path d="M263.43,321.93 C263.48,323.57 263.64,328.75 263.74,331.78 C263.84,334.81 263.92,337.46 264.05,340.12 C264.18,342.77 264.17,345.23 264.52,347.70 C264.86,350.16 265.51,352.44 266.11,354.90 C266.70,357.36 267.41,359.95 268.09,362.48 C268.77,365.01 269.41,367.53 270.19,370.06 C270.96,372.59 271.89,375.15 272.75,377.64 C273.60,380.13 274.46,382.46 275.31,384.99 C276.17,387.52 277.06,390.30 277.87,392.80 C278.69,395.30 278.57,396.53 280.20,400.00 C281.84,403.47 285.83,410.74 287.66,413.64 C289.49,416.55 289.99,416.42 291.15,417.43 C292.32,418.44 290.18,419.33 294.65,419.71 C299.12,420.09 314.07,419.71 317.95,419.71" fill="none" stroke="#e8141e" stroke-width="1.2" stroke-dasharray="4.8 2.2" clip-path="url(#c12)"/>
<path d="M263.43,321.93 C263.58,323.57 264.05,328.75 264.36,331.78 C264.67,334.81 264.90,337.46 265.29,340.12 C265.68,342.77 266.17,345.23 266.69,347.70 C267.21,350.16 267.82,352.44 268.44,354.90 C269.06,357.36 269.74,359.95 270.42,362.48 C271.10,365.01 271.74,367.53 272.51,370.06 C273.29,372.59 274.22,375.15 275.08,377.64 C275.93,380.13 276.79,382.46 277.64,384.99 C278.50,387.52 279.39,390.30 280.20,392.80 C281.02,395.30 281.17,397.22 282.53,400.00 C283.89,402.78 286.22,407.39 288.36,409.48 C290.49,411.56 292.71,411.88 295.35,412.51 C297.99,413.14 300.51,413.20 304.20,413.26 C307.89,413.33 315.27,412.95 317.48,412.89" fill="none" stroke="#e8141e" stroke-width="1.9" stroke-linejoin="round" clip-path="url(#c12)"/>
<line x1="259.70" y1="322.70" x2="259.70" y2="418.00" stroke="#4a4a4a" stroke-width="1"/>
<line x1="259.20" y1="417.50" x2="318.00" y2="417.50" stroke="#4a4a4a" stroke-width="1"/>
<line x1="259.70" y1="324.20" x2="261.70" y2="324.20" stroke="#4a4a4a" stroke-width="1"/>
<line x1="259.70" y1="362.10" x2="261.70" y2="362.10" stroke="#4a4a4a" stroke-width="1"/>
<line x1="259.70" y1="400.00" x2="261.70" y2="400.00" stroke="#4a4a4a" stroke-width="1"/>
<line x1="283.00" y1="417.50" x2="283.00" y2="415.50" stroke="#4a4a4a" stroke-width="1"/>
<line x1="306.30" y1="417.50" x2="306.30" y2="415.50" stroke="#4a4a4a" stroke-width="1"/>
<text x="290.20" y="330.10" font-size="12.5" text-anchor="middle" textLength="42.6" lengthAdjust="spacingAndGlyphs" fill="#2a2a2a" stroke="#2a2a2a" stroke-width="0.25">Fp2−F8</text>
<clipPath id="c13"><rect x="31.15" y="436.70" width="58.00" height="93.90"/></clipPath>
<path d="M31.12,432.21 C31.43,434.60 32.32,441.85 32.98,446.54 C33.64,451.23 34.46,456.09 35.08,460.36 C35.70,464.62 35.97,468.93 36.71,472.12 C37.45,475.32 38.30,477.67 39.50,479.54 C40.71,481.42 42.61,483.82 43.93,483.38 C45.25,482.94 45.91,479.30 47.43,476.90 C48.94,474.50 51.58,469.22 53.02,468.98 C54.45,468.73 54.92,470.40 56.05,475.42 C57.17,480.44 58.57,492.82 59.77,499.11 C60.98,505.39 61.30,509.50 63.27,513.13 C65.24,516.76 68.86,518.97 71.59,520.90 C74.32,522.83 76.97,523.05 79.66,524.69 C82.35,526.33 85.81,528.48 87.73,530.75 C89.66,533.03 90.65,537.07 91.23,538.34" fill="none" stroke="#3049a3" stroke-width="1.2" stroke-dasharray="4.8 2.2" clip-path="url(#c13)"/>
<path d="M31.12,432.21 C31.43,435.63 32.32,445.99 32.98,452.70 C33.64,459.40 34.46,466.35 35.08,472.45 C35.70,478.54 35.97,484.70 36.71,489.27 C37.45,493.84 37.87,497.19 39.50,499.88 C41.13,502.56 44.75,505.10 46.49,505.36 C48.24,505.62 49.21,502.89 49.99,501.44 C50.77,499.99 50.45,496.37 51.15,496.64 C51.85,496.92 53.06,501.29 54.18,503.09 C55.31,504.88 57.10,505.73 57.91,507.41 C58.73,509.08 58.31,510.88 59.08,513.13 C59.84,515.38 61.36,518.97 62.48,520.90 C63.60,522.83 64.69,523.05 65.79,524.69 C66.89,526.33 67.96,528.48 69.09,530.75 C70.23,533.03 72.01,537.07 72.59,538.34" fill="none" stroke="#3049a3" stroke-width="1.2" stroke-dasharray="4.8 2.2" clip-path="url(#c13)"/>
<path d="M31.12,432.21 C31.43,435.10 32.32,443.85 32.98,449.51 C33.64,455.18 34.46,461.04 35.08,466.19 C35.70,471.34 35.97,476.54 36.71,480.40 C37.45,484.26 38.14,487.09 39.50,489.36 C40.86,491.62 43.39,494.10 44.86,493.99 C46.34,493.88 47.31,490.66 48.36,488.70 C49.41,486.75 50.18,482.25 51.15,482.24 C52.12,482.24 53.06,485.21 54.18,488.69 C55.31,492.16 56.78,499.01 57.91,503.09 C59.04,507.16 59.44,510.16 60.94,513.13 C62.44,516.10 64.93,518.97 66.88,520.90 C68.83,522.83 70.73,523.05 72.65,524.69 C74.57,526.33 76.87,528.48 78.41,530.75 C79.96,533.03 81.33,537.07 81.91,538.34" fill="none" stroke="#3049a3" stroke-width="1.9" stroke-linejoin="round" clip-path="url(#c13)"/>
<path d="M31.12,432.21 C31.43,434.34 32.32,440.78 32.98,444.95 C33.64,449.12 34.46,453.44 35.08,457.23 C35.70,461.02 35.97,464.85 36.71,467.69 C37.45,470.53 38.30,472.62 39.50,474.28 C40.71,475.95 42.61,478.09 43.93,477.69 C45.25,477.30 46.38,474.04 47.43,471.90 C48.47,469.75 49.25,464.92 50.22,464.81 C51.19,464.70 52.12,465.74 53.25,471.25 C54.38,476.76 55.46,490.88 56.98,497.86 C58.49,504.84 60.40,509.29 62.34,513.13 C64.27,516.97 66.54,518.97 68.60,520.90 C70.65,522.83 72.65,523.05 74.67,524.69 C76.70,526.33 79.15,528.48 80.75,530.75 C82.34,533.03 83.66,537.07 84.24,538.34" fill="none" stroke="#e8141e" stroke-width="1.2" stroke-dasharray="4.8 2.2" clip-path="url(#c13)"/>
<path d="M31.12,432.21 C31.43,434.69 32.32,442.21 32.98,447.07 C33.64,451.94 34.46,456.98 35.08,461.40 C35.70,465.82 35.97,470.29 36.71,473.60 C37.45,476.92 38.30,479.35 39.50,481.30 C40.71,483.24 42.61,485.44 43.93,485.27 C45.25,485.11 46.30,482.16 47.43,480.33 C48.55,478.50 49.64,474.22 50.69,474.28 C51.74,474.35 52.59,476.32 53.72,480.73 C54.84,485.13 56.32,495.30 57.45,500.70 C58.57,506.10 59.08,509.76 60.47,513.13 C61.86,516.50 64.04,518.97 65.78,520.90 C67.52,522.83 69.22,523.05 70.93,524.69 C72.65,526.33 74.64,528.48 76.09,530.75 C77.53,533.03 79.00,537.07 79.58,538.34" fill="none" stroke="#e8141e" stroke-width="1.2" stroke-dasharray="4.8 2.2" clip-path="url(#c13)"/>
<path d="M31.12,432.21 C31.43,434.48 32.32,441.35 32.98,445.80 C33.64,450.25 34.46,454.85 35.08,458.90 C35.70,462.94 35.97,467.02 36.71,470.05 C37.45,473.09 38.30,475.31 39.50,477.09 C40.71,478.87 42.61,480.97 43.93,480.73 C45.25,480.48 46.38,477.51 47.43,475.61 C48.47,473.72 49.25,469.33 50.22,469.36 C51.19,469.39 52.12,470.82 53.25,475.80 C54.38,480.78 55.62,493.00 56.98,499.22 C58.34,505.44 59.73,509.52 61.41,513.13 C63.08,516.74 65.18,518.97 67.03,520.90 C68.88,522.83 70.67,523.05 72.49,524.69 C74.31,526.33 76.46,528.48 77.95,530.75 C79.44,533.03 80.86,537.07 81.44,538.34" fill="none" stroke="#e8141e" stroke-width="1.9" stroke-linejoin="round" clip-path="url(#c13)"/>
<line x1="30.65" y1="436.40" x2="30.65" y2="531.70" stroke="#4a4a4a" stroke-width="1"/>
<line x1="30.15" y1="531.20" x2="88.95" y2="531.20" stroke="#4a4a4a" stroke-width="1"/>
<line x1="30.65" y1="437.90" x2="32.65" y2="437.90" stroke="#4a4a4a" stroke-width="1"/>
<line x1="30.65" y1="475.80" x2="32.65" y2="475.80" stroke="#4a4a4a" stroke-width="1"/>
<line x1="30.65" y1="513.70" x2="32.65" y2="513.70" stroke="#4a4a4a" stroke-width="1"/>
<line x1="53.95" y1="531.20" x2="53.95" y2="529.20" stroke="#4a4a4a" stroke-width="1"/>
<line x1="77.25" y1="531.20" x2="77.25" y2="529.20" stroke="#4a4a4a" stroke-width="1"/>
<text x="60.35" y="443.80" font-size="12.5" text-anchor="middle" textLength="38.2" lengthAdjust="spacingAndGlyphs" fill="#2a2a2a" stroke="#2a2a2a" stroke-width="0.25">T5−O1</text>
<text x="29.20" y="442.00" font-size="11.5" text-anchor="end" stroke="#353535" stroke-width="0.18">20</text>
<text x="29.20" y="479.90" font-size="11.5" text-anchor="end" stroke="#353535" stroke-width="0.18">10</text>
<text x="29.20" y="517.80" font-size="11.5" text-anchor="end" stroke="#353535" stroke-width="0.18">0</text>
<text x="14.20" y="477.40" font-size="12" text-anchor="middle" textLength="27.7" lengthAdjust="spacingAndGlyphs" transform="rotate(-90 14.20 477.40)" stroke="#353535" stroke-width="0.18">Power</text>
<text x="30.35" y="541.80" font-size="11.5" text-anchor="middle" stroke="#353535" stroke-width="0.18">0</text>
<text x="53.65" y="541.80" font-size="11.5" text-anchor="middle" stroke="#353535" stroke-width="0.18">10</text>
<text x="76.95" y="541.80" font-size="11.5" text-anchor="middle" stroke="#353535" stroke-width="0.18">20</text>
<clipPath id="c14"><rect x="107.90" y="436.70" width="58.00" height="93.90"/></clipPath>
<path d="M107.87,432.21 C108.18,434.20 109.07,440.21 109.73,444.10 C110.39,447.99 111.21,452.02 111.83,455.56 C112.45,459.10 112.72,462.67 113.46,465.32 C114.20,467.98 115.05,469.92 116.25,471.48 C117.46,473.04 119.36,474.90 120.68,474.66 C122.00,474.43 122.78,471.76 124.18,470.06 C125.57,468.35 127.75,464.29 129.07,464.43 C130.39,464.57 130.97,465.32 132.10,470.87 C133.22,476.43 134.39,490.70 135.83,497.74 C137.26,504.79 138.56,509.27 140.72,513.13 C142.88,516.99 146.15,518.97 148.80,520.90 C151.45,522.83 154.03,523.05 156.64,524.69 C159.26,526.33 162.60,528.48 164.49,530.75 C166.37,533.03 167.40,537.07 167.98,538.34" fill="none" stroke="#3049a3" stroke-width="1.2" stroke-dasharray="4.8 2.2" clip-path="url(#c14)"/>
<path d="M107.87,432.21 C108.18,435.20 109.07,444.28 109.73,450.15 C110.39,456.02 111.21,462.11 111.83,467.44 C112.45,472.78 112.72,478.17 113.46,482.17 C114.20,486.18 114.47,489.11 116.25,491.46 C118.04,493.81 122.27,495.86 124.18,496.27 C126.08,496.67 127.13,494.76 127.67,493.88 C128.21,492.99 126.97,490.37 127.44,490.96 C127.90,491.55 129.34,494.95 130.47,497.40 C131.59,499.86 133.07,503.08 134.19,505.70 C135.32,508.32 135.90,510.60 137.22,513.13 C138.55,515.66 140.52,518.97 142.14,520.90 C143.75,522.83 145.31,523.05 146.90,524.69 C148.49,526.33 150.29,528.48 151.67,530.75 C153.05,533.03 154.58,537.07 155.17,538.34" fill="none" stroke="#3049a3" stroke-width="1.2" stroke-dasharray="4.8 2.2" clip-path="url(#c14)"/>
<path d="M107.87,432.21 C108.18,434.51 109.07,441.49 109.73,446.01 C110.39,450.53 111.21,455.21 111.83,459.31 C112.45,463.42 112.72,467.57 113.46,470.65 C114.20,473.72 115.13,475.98 116.25,477.79 C117.38,479.60 118.97,481.67 120.22,481.48 C121.46,481.30 122.70,478.48 123.71,476.71 C124.72,474.94 125.34,470.77 126.27,470.87 C127.21,470.97 128.18,472.52 129.30,477.32 C130.43,482.12 131.44,493.71 133.03,499.68 C134.62,505.65 136.89,509.59 138.86,513.13 C140.82,516.67 142.85,518.97 144.80,520.90 C146.75,522.83 148.64,523.05 150.56,524.69 C152.49,526.33 154.79,528.48 156.33,530.75 C157.87,533.03 159.24,537.07 159.83,538.34" fill="none" stroke="#3049a3" stroke-width="1.9" stroke-linejoin="round" clip-path="url(#c14)"/>
<path d="M107.87,432.21 C108.18,433.90 109.07,439.00 109.73,442.30 C110.39,445.60 111.21,449.02 111.83,452.02 C112.45,455.02 112.72,458.05 113.46,460.30 C114.20,462.55 115.05,464.20 116.25,465.52 C117.46,466.84 119.36,468.54 120.68,468.22 C122.00,467.90 123.24,465.32 124.18,463.62 C125.11,461.91 125.42,457.85 126.27,457.99 C127.13,458.12 128.18,458.13 129.30,464.43 C130.43,470.73 131.24,487.69 133.03,495.81 C134.82,503.93 137.76,508.95 140.02,513.13 C142.28,517.31 144.44,518.97 146.60,520.90 C148.75,522.83 150.85,523.05 152.98,524.69 C155.10,526.33 157.71,528.48 159.36,530.75 C161.01,533.03 162.27,537.07 162.85,538.34" fill="none" stroke="#e8141e" stroke-width="1.2" stroke-dasharray="4.8 2.2" clip-path="url(#c14)"/>
<path d="M107.87,432.21 C108.18,434.34 109.07,440.78 109.73,444.95 C110.39,449.12 111.21,453.44 111.83,457.23 C112.45,461.02 112.72,464.85 113.46,467.69 C114.20,470.53 115.05,472.62 116.25,474.28 C117.46,475.95 119.36,477.84 120.68,477.69 C122.00,477.55 123.17,475.01 124.18,473.43 C125.19,471.85 125.81,468.01 126.74,468.22 C127.67,468.43 128.64,469.55 129.77,474.66 C130.89,479.77 132.18,492.47 133.50,498.88 C134.82,505.29 136.00,509.46 137.69,513.13 C139.38,516.80 141.68,518.97 143.63,520.90 C145.58,522.83 147.48,523.05 149.40,524.69 C151.32,526.33 153.62,528.48 155.17,530.75 C156.71,533.03 158.08,537.07 158.66,538.34" fill="none" stroke="#e8141e" stroke-width="1.2" stroke-dasharray="4.8 2.2" clip-path="url(#c14)"/>
<path d="M107.87,432.21 C108.18,434.07 109.07,439.71 109.73,443.36 C110.39,447.01 111.21,450.79 111.83,454.10 C112.45,457.42 112.72,460.77 113.46,463.26 C114.20,465.74 115.13,467.57 116.25,469.03 C117.38,470.48 118.97,472.19 120.22,472.01 C121.46,471.83 122.70,469.43 123.71,467.92 C124.72,466.40 125.34,462.67 126.27,462.91 C127.21,463.15 128.18,463.63 129.30,469.36 C130.43,475.09 131.40,489.99 133.03,497.29 C134.66,504.59 137.06,509.20 139.09,513.13 C141.11,517.07 143.18,518.97 145.19,520.90 C147.19,522.83 149.13,523.05 151.11,524.69 C153.08,526.33 155.46,528.48 157.03,530.75 C158.60,533.03 159.94,537.07 160.52,538.34" fill="none" stroke="#e8141e" stroke-width="1.9" stroke-linejoin="round" clip-path="url(#c14)"/>
<line x1="107.40" y1="436.40" x2="107.40" y2="531.70" stroke="#4a4a4a" stroke-width="1"/>
<line x1="106.90" y1="531.20" x2="165.70" y2="531.20" stroke="#4a4a4a" stroke-width="1"/>
<line x1="107.40" y1="437.90" x2="109.40" y2="437.90" stroke="#4a4a4a" stroke-width="1"/>
<line x1="107.40" y1="475.80" x2="109.40" y2="475.80" stroke="#4a4a4a" stroke-width="1"/>
<line x1="107.40" y1="513.70" x2="109.40" y2="513.70" stroke="#4a4a4a" stroke-width="1"/>
<line x1="130.70" y1="531.20" x2="130.70" y2="529.20" stroke="#4a4a4a" stroke-width="1"/>
<line x1="154.00" y1="531.20" x2="154.00" y2="529.20" stroke="#4a4a4a" stroke-width="1"/>
<text x="137.10" y="443.80" font-size="12.5" text-anchor="middle" textLength="38.2" lengthAdjust="spacingAndGlyphs" fill="#2a2a2a" stroke="#2a2a2a" stroke-width="0.25">P3−O1</text>
<text x="107.10" y="541.80" font-size="11.5" text-anchor="middle" stroke="#353535" stroke-width="0.18">0</text>
<text x="130.40" y="541.80" font-size="11.5" text-anchor="middle" stroke="#353535" stroke-width="0.18">10</text>
<text x="153.70" y="541.80" font-size="11.5" text-anchor="middle" stroke="#353535" stroke-width="0.18">20</text>
<clipPath id="c15"><rect x="184.20" y="436.70" width="58.00" height="93.90"/></clipPath>
<path d="M184.17,432.21 C184.48,434.37 185.37,440.92 186.03,445.16 C186.69,449.40 187.51,453.79 188.13,457.65 C188.75,461.50 189.02,465.39 189.76,468.28 C190.50,471.17 191.35,473.29 192.55,474.99 C193.76,476.68 195.66,478.64 196.98,478.45 C198.30,478.26 199.12,475.55 200.48,473.85 C201.84,472.14 203.85,468.08 205.14,468.22 C206.42,468.36 207.04,469.55 208.17,474.66 C209.29,479.77 210.42,492.47 211.89,498.88 C213.37,505.29 215.02,509.46 217.02,513.13 C219.02,516.80 221.65,518.97 223.91,520.90 C226.17,522.83 228.37,523.05 230.60,524.69 C232.83,526.33 235.59,528.48 237.29,530.75 C238.99,533.03 240.20,537.07 240.79,538.34" fill="none" stroke="#3049a3" stroke-width="1.2" stroke-dasharray="4.8 2.2" clip-path="url(#c15)"/>
<path d="M184.17,432.21 C184.48,435.17 185.37,444.14 186.03,449.94 C186.69,455.74 187.51,461.75 188.13,467.03 C188.75,472.30 189.02,477.63 189.76,481.58 C190.50,485.54 190.92,488.44 192.55,490.76 C194.19,493.08 197.80,494.94 199.54,495.51 C201.29,496.07 202.30,494.65 203.04,494.14 C203.78,493.64 203.31,491.68 203.97,492.48 C204.63,493.27 205.87,496.64 207.00,498.92 C208.13,501.20 209.72,503.79 210.73,506.16 C211.74,508.53 211.89,510.67 213.06,513.13 C214.23,515.59 216.20,518.97 217.73,520.90 C219.27,522.83 220.76,523.05 222.27,524.69 C223.78,526.33 225.47,528.48 226.81,530.75 C228.14,533.03 229.72,537.07 230.30,538.34" fill="none" stroke="#3049a3" stroke-width="1.2" stroke-dasharray="4.8 2.2" clip-path="url(#c15)"/>
<path d="M184.17,432.21 C184.48,434.67 185.37,442.14 186.03,446.97 C186.69,451.79 187.51,456.80 188.13,461.19 C188.75,465.58 189.02,470.01 189.76,473.31 C190.50,476.60 191.35,479.01 192.55,480.94 C193.76,482.88 195.66,484.89 196.98,484.90 C198.30,484.90 199.47,482.43 200.48,480.97 C201.49,479.52 202.11,475.90 203.04,476.18 C203.97,476.45 204.94,478.44 206.07,482.62 C207.19,486.80 208.28,496.18 209.80,501.27 C211.31,506.35 213.27,509.86 215.16,513.13 C217.04,516.40 219.15,518.97 221.10,520.90 C223.05,522.83 224.94,523.05 226.86,524.69 C228.79,526.33 231.09,528.48 232.63,530.75 C234.17,533.03 235.54,537.07 236.13,538.34" fill="none" stroke="#3049a3" stroke-width="1.9" stroke-linejoin="round" clip-path="url(#c15)"/>
<path d="M184.17,432.21 C184.48,433.98 185.37,439.35 186.03,442.83 C186.69,446.30 187.51,449.90 188.13,453.06 C188.75,456.22 189.02,459.41 189.76,461.78 C190.50,464.15 191.35,465.88 192.55,467.27 C193.76,468.66 195.66,470.64 196.98,470.12 C198.30,469.59 199.47,466.36 200.48,464.15 C201.49,461.93 202.11,456.99 203.04,456.85 C203.97,456.71 204.94,456.86 206.07,463.29 C207.19,469.73 208.09,487.16 209.80,495.47 C211.50,503.78 214.23,508.89 216.32,513.13 C218.41,517.37 220.36,518.97 222.34,520.90 C224.32,522.83 226.24,523.05 228.18,524.69 C230.13,526.33 232.47,528.48 234.03,530.75 C235.58,533.03 236.94,537.07 237.52,538.34" fill="none" stroke="#e8141e" stroke-width="1.2" stroke-dasharray="4.8 2.2" clip-path="url(#c15)"/>
<path d="M184.17,432.21 C184.48,434.37 185.37,440.92 186.03,445.16 C186.69,449.40 187.51,453.79 188.13,457.65 C188.75,461.50 189.02,465.39 189.76,468.28 C190.50,471.17 191.35,473.29 192.55,474.99 C193.76,476.68 195.66,478.64 196.98,478.45 C198.30,478.26 199.39,475.55 200.48,473.85 C201.56,472.14 202.50,468.08 203.51,468.22 C204.51,468.36 205.41,469.55 206.53,474.66 C207.66,479.77 209.02,492.47 210.26,498.88 C211.50,505.29 212.40,509.46 213.99,513.13 C215.58,516.80 217.87,518.97 219.77,520.90 C221.67,522.83 223.52,523.05 225.39,524.69 C227.26,526.33 229.48,528.48 231.00,530.75 C232.52,533.03 233.91,537.07 234.49,538.34" fill="none" stroke="#e8141e" stroke-width="1.2" stroke-dasharray="4.8 2.2" clip-path="url(#c15)"/>
<path d="M184.17,432.21 C184.48,434.14 185.37,440.00 186.03,443.78 C186.69,447.57 187.51,451.49 188.13,454.94 C188.75,458.38 189.02,461.86 189.76,464.44 C190.50,467.02 191.35,468.91 192.55,470.43 C193.76,471.94 195.66,473.81 196.98,473.53 C198.30,473.25 199.47,470.52 200.48,468.75 C201.49,466.98 202.11,462.81 203.04,462.91 C203.97,463.02 204.94,463.63 206.07,469.36 C207.19,475.09 208.32,489.99 209.80,497.29 C211.27,504.59 213.09,509.20 214.92,513.13 C216.75,517.07 218.86,518.97 220.78,520.90 C222.71,522.83 224.58,523.05 226.47,524.69 C228.37,526.33 230.63,528.48 232.16,530.75 C233.69,533.03 235.08,537.07 235.66,538.34" fill="none" stroke="#e8141e" stroke-width="1.9" stroke-linejoin="round" clip-path="url(#c15)"/>
<line x1="183.70" y1="436.40" x2="183.70" y2="531.70" stroke="#4a4a4a" stroke-width="1"/>
<line x1="183.20" y1="531.20" x2="242.00" y2="531.20" stroke="#4a4a4a" stroke-width="1"/>
<line x1="183.70" y1="437.90" x2="185.70" y2="437.90" stroke="#4a4a4a" stroke-width="1"/>
<line x1="183.70" y1="475.80" x2="185.70" y2="475.80" stroke="#4a4a4a" stroke-width="1"/>
<line x1="183.70" y1="513.70" x2="185.70" y2="513.70" stroke="#4a4a4a" stroke-width="1"/>
<line x1="207.00" y1="531.20" x2="207.00" y2="529.20" stroke="#4a4a4a" stroke-width="1"/>
<line x1="230.30" y1="531.20" x2="230.30" y2="529.20" stroke="#4a4a4a" stroke-width="1"/>
<text x="213.40" y="443.80" font-size="12.5" text-anchor="middle" textLength="38.2" lengthAdjust="spacingAndGlyphs" fill="#2a2a2a" stroke="#2a2a2a" stroke-width="0.25">P4−O2</text>
<text x="183.40" y="541.80" font-size="11.5" text-anchor="middle" stroke="#353535" stroke-width="0.18">0</text>
<text x="206.70" y="541.80" font-size="11.5" text-anchor="middle" stroke="#353535" stroke-width="0.18">10</text>
<text x="230.00" y="541.80" font-size="11.5" text-anchor="middle" stroke="#353535" stroke-width="0.18">20</text>
<clipPath id="c16"><rect x="260.20" y="436.70" width="58.00" height="93.90"/></clipPath>
<path d="M260.17,432.21 C260.48,434.51 261.37,441.49 262.03,446.01 C262.69,450.53 263.51,455.21 264.13,459.31 C264.75,463.42 265.02,467.57 265.76,470.65 C266.50,473.72 267.35,475.98 268.55,477.79 C269.76,479.60 271.66,481.72 272.98,481.48 C274.30,481.25 275.04,478.26 276.48,476.37 C277.91,474.47 280.24,470.08 281.60,470.12 C282.96,470.15 283.50,471.67 284.63,476.56 C285.76,481.45 286.88,493.35 288.36,499.45 C289.83,505.55 291.18,509.56 293.49,513.13 C295.79,516.71 299.34,518.97 302.20,520.90 C305.06,522.83 307.84,523.05 310.66,524.69 C313.48,526.33 317.12,528.48 319.12,530.75 C321.11,533.03 322.03,537.07 322.61,538.34" fill="none" stroke="#3049a3" stroke-width="1.2" stroke-dasharray="4.8 2.2" clip-path="url(#c16)"/>
<path d="M260.17,432.21 C260.48,435.33 261.37,444.78 262.03,450.89 C262.69,457.01 263.51,463.34 264.13,468.90 C264.75,474.46 265.02,480.08 265.76,484.24 C266.50,488.41 266.92,491.47 268.55,493.92 C270.18,496.36 273.80,498.28 275.54,498.92 C277.29,499.55 278.34,498.17 279.04,497.73 C279.74,497.28 279.12,495.44 279.74,496.27 C280.36,497.10 281.64,500.87 282.77,502.71 C283.89,504.55 285.49,505.56 286.50,507.29 C287.50,509.03 287.84,510.86 288.82,513.13 C289.81,515.40 291.22,518.97 292.39,520.90 C293.56,522.83 294.70,523.05 295.85,524.69 C297.00,526.33 298.15,528.48 299.31,530.75 C300.47,533.03 302.22,537.07 302.81,538.34" fill="none" stroke="#3049a3" stroke-width="1.2" stroke-dasharray="4.8 2.2" clip-path="url(#c16)"/>
<path d="M260.17,432.21 C260.48,434.92 261.37,443.14 262.03,448.45 C262.69,453.77 263.51,459.28 264.13,464.11 C264.75,468.94 265.02,473.82 265.76,477.44 C266.50,481.07 267.23,483.73 268.55,485.85 C269.87,487.98 272.24,490.19 273.68,490.20 C275.12,490.22 276.13,487.52 277.18,485.94 C278.22,484.36 279.00,480.52 279.97,480.73 C280.94,480.93 281.87,483.52 283.00,487.17 C284.13,490.82 285.45,498.31 286.73,502.63 C288.01,506.96 289.08,510.09 290.69,513.13 C292.30,516.18 294.52,518.97 296.39,520.90 C298.27,522.83 300.08,523.05 301.93,524.69 C303.77,526.33 305.96,528.48 307.46,530.75 C308.97,533.03 310.38,537.07 310.96,538.34" fill="none" stroke="#3049a3" stroke-width="1.9" stroke-linejoin="round" clip-path="url(#c16)"/>
<path d="M260.17,432.21 C260.48,434.07 261.37,439.71 262.03,443.36 C262.69,447.01 263.51,450.79 264.13,454.10 C264.75,457.42 265.02,460.77 265.76,463.26 C266.50,465.74 267.35,467.57 268.55,469.03 C269.76,470.48 271.66,472.19 272.98,472.01 C274.30,471.83 275.47,469.43 276.48,467.92 C277.49,466.40 278.11,462.67 279.04,462.91 C279.97,463.15 280.94,463.63 282.07,469.36 C283.19,475.09 284.09,489.99 285.80,497.29 C287.50,504.59 290.24,509.20 292.32,513.13 C294.40,517.07 296.31,518.97 298.26,520.90 C300.21,522.83 302.11,523.05 304.03,524.69 C305.95,526.33 308.25,528.48 309.79,530.75 C311.34,533.03 312.71,537.07 313.29,538.34" fill="none" stroke="#e8141e" stroke-width="1.2" stroke-dasharray="4.8 2.2" clip-path="url(#c16)"/>
<path d="M260.17,432.21 C260.48,434.50 261.37,441.42 262.03,445.90 C262.69,450.39 263.51,455.03 264.13,459.11 C264.75,463.18 265.02,467.29 265.76,470.35 C266.50,473.41 267.35,475.65 268.55,477.44 C269.76,479.23 271.66,481.18 272.98,481.11 C274.30,481.03 275.39,478.53 276.48,477.01 C277.56,475.50 278.50,471.77 279.50,472.01 C280.51,472.25 281.41,473.78 282.53,478.45 C283.66,483.12 285.02,494.24 286.26,500.02 C287.50,505.80 288.44,509.65 289.99,513.13 C291.54,516.61 293.71,518.97 295.54,520.90 C297.36,522.83 299.12,523.05 300.92,524.69 C302.71,526.33 304.82,528.48 306.30,530.75 C307.78,533.03 309.21,537.07 309.79,538.34" fill="none" stroke="#e8141e" stroke-width="1.2" stroke-dasharray="4.8 2.2" clip-path="url(#c16)"/>
<path d="M260.17,432.21 C260.48,434.23 261.37,440.35 262.03,444.31 C262.69,448.27 263.51,452.38 264.13,455.98 C264.75,459.58 265.02,463.22 265.76,465.92 C266.50,468.62 267.23,470.60 268.55,472.18 C269.87,473.76 272.24,475.48 273.68,475.42 C275.12,475.36 276.28,473.17 277.18,471.84 C278.07,470.51 278.22,467.12 279.04,467.46 C279.85,467.81 280.94,468.71 282.07,473.90 C283.19,479.10 284.28,492.12 285.80,498.65 C287.31,505.19 289.32,509.42 291.15,513.13 C292.99,516.84 294.93,518.97 296.78,520.90 C298.63,522.83 300.42,523.05 302.24,524.69 C304.06,526.33 306.21,528.48 307.70,530.75 C309.19,533.03 310.61,537.07 311.19,538.34" fill="none" stroke="#e8141e" stroke-width="1.9" stroke-linejoin="round" clip-path="url(#c16)"/>
<line x1="259.70" y1="436.40" x2="259.70" y2="531.70" stroke="#4a4a4a" stroke-width="1"/>
<line x1="259.20" y1="531.20" x2="318.00" y2="531.20" stroke="#4a4a4a" stroke-width="1"/>
<line x1="259.70" y1="437.90" x2="261.70" y2="437.90" stroke="#4a4a4a" stroke-width="1"/>
<line x1="259.70" y1="475.80" x2="261.70" y2="475.80" stroke="#4a4a4a" stroke-width="1"/>
<line x1="259.70" y1="513.70" x2="261.70" y2="513.70" stroke="#4a4a4a" stroke-width="1"/>
<line x1="283.00" y1="531.20" x2="283.00" y2="529.20" stroke="#4a4a4a" stroke-width="1"/>
<line x1="306.30" y1="531.20" x2="306.30" y2="529.20" stroke="#4a4a4a" stroke-width="1"/>
<text x="289.40" y="443.80" font-size="12.5" text-anchor="middle" textLength="38.2" lengthAdjust="spacingAndGlyphs" fill="#2a2a2a" stroke="#2a2a2a" stroke-width="0.25">T6−O2</text>
<text x="259.40" y="541.80" font-size="11.5" text-anchor="middle" stroke="#353535" stroke-width="0.18">0</text>
<text x="282.70" y="541.80" font-size="11.5" text-anchor="middle" stroke="#353535" stroke-width="0.18">10</text>
<text x="306.00" y="541.80" font-size="11.5" text-anchor="middle" stroke="#353535" stroke-width="0.18">20</text>
<text x="175.00" y="556.70" font-size="14.5" text-anchor="middle" textLength="58.1" lengthAdjust="spacingAndGlyphs" stroke="#353535" stroke-width="0.18">Freq [Hz]</text>
<text x="380.10" y="29.50" font-size="15.6" text-anchor="start" font-weight="bold" textLength="65.1" lengthAdjust="spacingAndGlyphs" fill="#111" stroke="#111" stroke-width="0.45">Training</text>
<line x1="378.50" y1="36.50" x2="378.50" y2="164.70" stroke="#4a4a4a" stroke-width="1"/>
<line x1="378.00" y1="164.20" x2="561.80" y2="164.20" stroke="#4a4a4a" stroke-width="1"/>
<line x1="378.50" y1="164.20" x2="380.50" y2="164.20" stroke="#4a4a4a" stroke-width="1"/>
<text x="377.00" y="165.40" font-size="11.5" text-anchor="end" stroke="#353535" stroke-width="0.18">0</text>
<line x1="378.50" y1="132.40" x2="380.50" y2="132.40" stroke="#4a4a4a" stroke-width="1"/>
<text x="377.00" y="133.60" font-size="11.5" text-anchor="end" stroke="#353535" stroke-width="0.18">5</text>
<line x1="378.50" y1="100.60" x2="380.50" y2="100.60" stroke="#4a4a4a" stroke-width="1"/>
<text x="377.00" y="101.80" font-size="11.5" text-anchor="end" stroke="#353535" stroke-width="0.18">10</text>
<line x1="378.50" y1="68.80" x2="380.50" y2="68.80" stroke="#4a4a4a" stroke-width="1"/>
<text x="377.00" y="70.00" font-size="11.5" text-anchor="end" stroke="#353535" stroke-width="0.18">15</text>
<line x1="378.50" y1="37.00" x2="380.50" y2="37.00" stroke="#4a4a4a" stroke-width="1"/>
<text x="377.00" y="38.20" font-size="11.5" text-anchor="end" stroke="#353535" stroke-width="0.18">20</text>
<line x1="414.65" y1="164.20" x2="414.65" y2="162.20" stroke="#4a4a4a" stroke-width="1"/>
<text x="413.00" y="176.30" font-size="11.5" text-anchor="middle" stroke="#353535" stroke-width="0.18">5</text>
<line x1="451.00" y1="164.20" x2="451.00" y2="162.20" stroke="#4a4a4a" stroke-width="1"/>
<text x="449.50" y="176.30" font-size="11.5" text-anchor="middle" stroke="#353535" stroke-width="0.18">10</text>
<line x1="487.35" y1="164.20" x2="487.35" y2="162.20" stroke="#4a4a4a" stroke-width="1"/>
<text x="487.10" y="176.30" font-size="11.5" text-anchor="middle" stroke="#353535" stroke-width="0.18">15</text>
<line x1="523.70" y1="164.20" x2="523.70" y2="162.20" stroke="#4a4a4a" stroke-width="1"/>
<text x="522.50" y="176.30" font-size="11.5" text-anchor="middle" stroke="#353535" stroke-width="0.18">20</text>
<line x1="560.05" y1="164.20" x2="560.05" y2="162.20" stroke="#4a4a4a" stroke-width="1"/>
<text x="555.40" y="176.30" font-size="11.5" text-anchor="middle" stroke="#353535" stroke-width="0.18">25</text>
<text x="470.60" y="189.80" font-size="14.5" text-anchor="middle" textLength="59.6" lengthAdjust="spacingAndGlyphs" stroke="#353535" stroke-width="0.18">Freq [Hz]</text>
<text x="361.70" y="101.30" font-size="14" text-anchor="middle" textLength="126.8" lengthAdjust="spacingAndGlyphs" transform="rotate(-90 361.70 101.30)" stroke="#353535" stroke-width="0.18">Back/Front PS Ratio</text>
<clipPath id="c17"><rect x="379.00" y="30.64" width="183.30" height="133.06"/></clipPath>
<path d="M378.07,158.48 C381.04,158.53 390.21,159.16 395.90,158.79 C401.60,158.42 407.92,157.36 412.25,156.25 C416.58,155.14 419.00,154.39 421.91,152.12 C424.82,149.84 426.86,146.50 429.71,142.58 C432.56,138.65 435.75,131.76 439.00,128.58 C442.24,125.40 446.45,123.92 449.18,123.50 C451.90,123.07 453.57,124.56 455.34,126.04 C457.11,127.52 458.19,128.58 459.80,132.40 C461.41,136.22 463.02,145.33 465.00,148.94 C466.98,152.54 467.98,152.86 471.69,154.02 C475.41,155.19 479.00,155.19 487.29,155.93 C495.59,156.67 509.09,157.63 521.47,158.48 C533.85,159.32 554.91,160.60 561.59,161.02" fill="none" stroke="#3049a3" stroke-width="1.15" stroke-dasharray="4.8 2.2" clip-path="url(#c17)"/>
<path d="M378.07,163.25 C381.04,163.09 390.21,162.66 395.90,162.29 C401.60,161.92 407.79,161.76 412.25,161.02 C416.71,160.28 419.68,159.11 422.65,157.84 C425.62,156.57 427.48,155.30 430.08,153.39 C432.68,151.48 435.41,148.30 438.25,146.39 C441.10,144.48 444.69,142.36 447.17,141.94 C449.65,141.52 451.01,142.15 453.12,143.85 C455.22,145.54 457.20,149.68 459.80,152.12 C462.40,154.55 465.50,157.31 468.72,158.48 C471.94,159.64 473.92,158.79 479.12,159.11 C484.32,159.43 492.87,159.96 499.92,160.38 C506.98,160.81 511.19,161.34 521.47,161.66 C531.75,161.97 554.91,162.19 561.59,162.29" fill="none" stroke="#3049a3" stroke-width="1.15" stroke-dasharray="4.8 2.2" clip-path="url(#c17)"/>
<path d="M378.07,160.70 C381.04,160.54 389.96,160.36 395.90,159.75 C401.85,159.13 409.40,158.07 413.74,157.01 C418.07,155.95 419.62,154.59 421.91,153.39 C424.20,152.19 425.00,151.95 427.48,149.83 C429.96,147.71 433.92,143.52 436.77,140.67 C439.62,137.82 441.97,134.04 444.57,132.72 C447.17,131.39 449.83,130.65 452.37,132.72 C454.91,134.78 458.07,141.68 459.80,145.12 C461.54,148.56 461.29,151.46 462.77,153.39 C464.26,155.32 464.63,156.03 468.72,156.70 C472.80,157.36 478.50,156.84 487.29,157.39 C496.09,157.95 509.09,159.29 521.47,160.00 C533.85,160.71 554.91,161.38 561.59,161.66" fill="none" stroke="#3049a3" stroke-width="2.0" stroke-linejoin="round" clip-path="url(#c17)"/>
<path d="M378.07,161.02 C381.04,160.81 389.96,160.81 395.90,159.75 C401.85,158.69 409.28,158.22 413.74,154.66 C418.19,151.10 420.18,143.47 422.65,138.38 C425.13,133.29 426.61,130.96 428.60,124.13 C430.58,117.31 431.69,107.60 434.54,97.42 C437.39,87.24 442.84,69.86 445.69,63.08 C448.53,56.29 449.40,54.70 451.63,56.72 C453.86,58.73 456.58,68.06 459.06,75.16 C461.54,82.26 464.14,89.15 466.49,99.33 C468.84,109.50 470.95,127.95 473.18,136.22 C475.41,144.48 477.51,146.29 479.86,148.94 C482.22,151.59 480.36,150.99 487.29,152.12 C494.23,153.24 509.09,154.30 521.47,155.68 C533.85,157.06 554.91,159.60 561.59,160.38" fill="none" stroke="#e8141e" stroke-width="1.15" stroke-dasharray="4.8 2.2" clip-path="url(#c17)"/>
<path d="M378.07,163.56 C381.04,163.25 389.96,162.61 395.90,161.66 C401.85,160.70 409.28,159.11 413.74,157.84 C418.19,156.57 419.18,156.89 422.65,154.02 C426.12,151.16 431.44,145.54 434.54,140.67 C437.64,135.79 438.96,129.54 441.23,124.77 C443.49,120.00 445.91,112.05 448.14,112.05 C450.37,112.05 452.29,118.83 454.60,124.77 C456.92,130.70 460.05,141.77 462.03,147.66 C464.01,153.56 465.00,158.65 466.49,160.13 C467.98,161.61 468.72,157.27 470.95,156.57 C473.18,155.87 471.44,155.61 479.86,155.93 C488.28,156.25 507.85,157.57 521.47,158.48 C535.09,159.38 554.91,160.86 561.59,161.34" fill="none" stroke="#e8141e" stroke-width="1.15" stroke-dasharray="4.8 2.2" clip-path="url(#c17)"/>
<path d="M378.07,161.66 C381.04,161.50 390.83,161.23 395.90,160.70 C400.98,160.17 404.94,159.38 408.54,158.48 C412.13,157.57 415.06,156.74 417.45,155.30 C419.84,153.85 420.83,152.65 422.87,149.83 C424.92,147.01 427.42,143.72 429.71,138.38 C432.00,133.04 434.33,125.02 436.62,117.77 C438.91,110.52 441.54,100.07 443.46,94.88 C445.38,89.68 446.65,87.14 448.14,86.61 C449.62,86.08 450.43,86.87 452.37,91.70 C454.32,96.52 457.45,107.38 459.80,115.55 C462.15,123.71 464.63,134.78 466.49,140.67 C468.35,146.55 468.72,148.72 470.95,150.84 C473.18,152.96 477.14,152.86 479.86,153.39 C482.59,153.92 480.36,153.36 487.29,154.02 C494.23,154.69 509.09,156.28 521.47,157.39 C533.85,158.51 554.91,160.15 561.59,160.70" fill="none" stroke="#e8141e" stroke-width="2.0" stroke-linejoin="round" clip-path="url(#c17)"/>
<text x="380.10" y="212.30" font-size="15.6" text-anchor="start" font-weight="bold" textLength="80.6" lengthAdjust="spacingAndGlyphs" fill="#111" stroke="#111" stroke-width="0.45">Validation</text>
<line x1="378.50" y1="219.10" x2="378.50" y2="346.10" stroke="#4a4a4a" stroke-width="1"/>
<line x1="378.00" y1="345.60" x2="561.80" y2="345.60" stroke="#4a4a4a" stroke-width="1"/>
<line x1="378.50" y1="345.20" x2="380.50" y2="345.20" stroke="#4a4a4a" stroke-width="1"/>
<text x="377.00" y="346.40" font-size="11.5" text-anchor="end" stroke="#353535" stroke-width="0.18">0</text>
<line x1="378.50" y1="313.80" x2="380.50" y2="313.80" stroke="#4a4a4a" stroke-width="1"/>
<text x="377.00" y="315.00" font-size="11.5" text-anchor="end" stroke="#353535" stroke-width="0.18">5</text>
<line x1="378.50" y1="282.40" x2="380.50" y2="282.40" stroke="#4a4a4a" stroke-width="1"/>
<text x="377.00" y="283.60" font-size="11.5" text-anchor="end" stroke="#353535" stroke-width="0.18">10</text>
<line x1="378.50" y1="251.00" x2="380.50" y2="251.00" stroke="#4a4a4a" stroke-width="1"/>
<text x="377.00" y="252.20" font-size="11.5" text-anchor="end" stroke="#353535" stroke-width="0.18">15</text>
<line x1="378.50" y1="219.60" x2="380.50" y2="219.60" stroke="#4a4a4a" stroke-width="1"/>
<text x="377.00" y="220.80" font-size="11.5" text-anchor="end" stroke="#353535" stroke-width="0.18">20</text>
<line x1="414.65" y1="345.60" x2="414.65" y2="343.60" stroke="#4a4a4a" stroke-width="1"/>
<text x="413.00" y="357.70" font-size="11.5" text-anchor="middle" stroke="#353535" stroke-width="0.18">5</text>
<line x1="451.00" y1="345.60" x2="451.00" y2="343.60" stroke="#4a4a4a" stroke-width="1"/>
<text x="449.50" y="357.70" font-size="11.5" text-anchor="middle" stroke="#353535" stroke-width="0.18">10</text>
<line x1="487.35" y1="345.60" x2="487.35" y2="343.60" stroke="#4a4a4a" stroke-width="1"/>
<text x="487.10" y="357.70" font-size="11.5" text-anchor="middle" stroke="#353535" stroke-width="0.18">15</text>
<line x1="523.70" y1="345.60" x2="523.70" y2="343.60" stroke="#4a4a4a" stroke-width="1"/>
<text x="522.50" y="357.70" font-size="11.5" text-anchor="middle" stroke="#353535" stroke-width="0.18">20</text>
<line x1="560.05" y1="345.60" x2="560.05" y2="343.60" stroke="#4a4a4a" stroke-width="1"/>
<text x="555.40" y="357.70" font-size="11.5" text-anchor="middle" stroke="#353535" stroke-width="0.18">25</text>
<text x="470.60" y="371.40" font-size="14.5" text-anchor="middle" textLength="59.6" lengthAdjust="spacingAndGlyphs" stroke="#353535" stroke-width="0.18">Freq [Hz]</text>
<text x="361.70" y="283.10" font-size="14" text-anchor="middle" textLength="126.8" lengthAdjust="spacingAndGlyphs" transform="rotate(-90 361.70 283.10)" stroke="#353535" stroke-width="0.18">Back/Front PS Ratio</text>
<clipPath id="c18"><rect x="379.00" y="213.32" width="183.30" height="131.78"/></clipPath>
<path d="M378.07,340.99 C381.04,341.07 389.34,341.93 395.90,341.43 C402.47,340.93 412.57,340.28 417.45,337.98 C422.33,335.68 422.33,332.06 425.18,327.62 C428.03,323.17 431.87,317.78 434.54,311.29 C437.21,304.80 439.17,294.12 441.23,288.68 C443.28,283.24 445.02,278.63 446.87,278.63 C448.73,278.63 450.46,282.82 452.37,288.68 C454.28,294.54 456.33,306.94 458.32,313.80 C460.30,320.66 462.03,326.26 464.26,329.81 C466.49,333.37 465.75,333.63 471.69,335.15 C477.63,336.67 491.26,337.87 499.92,338.92 C508.59,339.97 513.42,340.70 523.70,341.43 C533.98,342.16 555.28,343.00 561.59,343.32" fill="none" stroke="#3049a3" stroke-width="1.15" stroke-dasharray="4.8 2.2" clip-path="url(#c18)"/>
<path d="M378.07,343.94 C381.04,343.84 389.34,343.86 395.90,343.32 C402.47,342.77 412.13,341.12 417.45,340.68 C422.78,340.24 424.76,340.55 427.85,340.68 C430.95,340.80 434.17,342.09 436.03,341.43 C437.88,340.77 436.81,338.46 439.00,336.72 C441.19,334.98 445.71,330.64 449.18,331.01 C452.64,331.37 456.55,337.81 459.80,338.92 C463.06,340.03 462.03,337.25 468.72,337.66 C475.41,338.08 484.44,340.33 499.92,341.43 C515.40,342.53 551.31,343.79 561.59,344.26" fill="none" stroke="#3049a3" stroke-width="1.15" stroke-dasharray="4.8 2.2" clip-path="url(#c18)"/>
<path d="M378.07,341.68 C381.04,341.79 389.34,342.67 395.90,342.31 C402.47,341.96 412.99,340.64 417.45,339.55 C421.91,338.46 420.92,336.83 422.65,335.78 C424.39,334.73 426.29,334.63 427.85,333.27 C429.41,331.91 429.78,330.86 432.01,327.62 C434.24,324.37 438.63,317.62 441.23,313.80 C443.83,309.98 445.51,305.11 447.62,304.69 C449.72,304.28 452.07,308.20 453.86,311.29 C455.64,314.38 456.58,319.56 458.32,323.22 C460.05,326.88 462.03,330.86 464.26,333.27 C466.49,335.68 466.12,336.36 471.69,337.66 C477.26,338.97 488.90,340.21 497.70,341.12 C506.49,342.03 513.79,342.60 524.44,343.13 C535.09,343.65 555.40,344.07 561.59,344.26" fill="none" stroke="#3049a3" stroke-width="2.0" stroke-linejoin="round" clip-path="url(#c18)"/>
<path d="M378.07,343.32 C381.04,342.69 389.34,341.40 395.90,339.55 C402.47,337.70 413.36,334.92 417.45,332.20 C421.54,329.48 418.75,327.44 420.42,323.22 C422.09,319.00 425.13,315.37 427.48,306.89 C429.83,298.41 432.50,282.61 434.54,272.35 C436.58,262.09 437.69,251.31 439.74,245.35 C441.80,239.38 444.52,235.40 446.87,236.56 C449.23,237.71 451.95,245.45 453.86,252.26 C455.77,259.06 456.83,266.70 458.32,277.38 C459.80,288.05 461.04,307.52 462.77,316.31 C464.51,325.10 465.99,327.46 468.72,330.13 C471.44,332.80 472.43,331.75 479.12,332.33 C485.81,332.90 501.66,332.69 508.84,333.58 C516.02,334.47 517.26,336.56 522.21,337.66 C527.17,338.76 532.00,339.44 538.56,340.18 C545.12,340.91 557.75,341.75 561.59,342.06" fill="none" stroke="#e8141e" stroke-width="1.15" stroke-dasharray="4.8 2.2" clip-path="url(#c18)"/>
<path d="M378.07,344.38 C381.04,343.89 389.34,342.66 395.90,341.43 C402.47,340.21 412.19,339.65 417.45,337.04 C422.71,334.42 424.26,330.76 427.48,325.73 C430.70,320.71 434.11,311.92 436.77,306.89 C439.43,301.87 440.86,295.59 443.46,295.59 C446.06,295.59 449.65,301.66 452.37,306.89 C455.10,312.13 457.57,322.17 459.80,326.99 C462.03,331.80 462.53,334.00 465.75,335.78 C468.97,337.56 471.94,337.25 479.12,337.66 C486.30,338.08 501.41,337.77 508.84,338.29 C516.27,338.82 514.91,339.97 523.70,340.80 C532.49,341.64 555.28,342.90 561.59,343.32" fill="none" stroke="#e8141e" stroke-width="1.15" stroke-dasharray="4.8 2.2" clip-path="url(#c18)"/>
<path d="M378.07,343.63 C381.04,343.16 390.83,341.69 395.90,340.80 C400.98,339.91 404.94,339.19 408.54,338.29 C412.13,337.39 414.68,337.92 417.45,335.40 C420.22,332.89 422.75,328.34 425.18,323.22 C427.61,318.10 429.71,311.60 432.01,304.69 C434.32,297.79 436.91,288.07 439.00,281.77 C441.09,275.47 443.13,269.37 444.57,266.89 C446.01,264.41 446.07,263.99 447.62,266.89 C449.16,269.79 452.07,277.20 453.86,284.28 C455.64,291.37 456.95,302.60 458.32,309.40 C459.68,316.21 460.30,321.13 462.03,325.10 C463.76,329.08 466.49,331.65 468.72,333.27 C470.95,334.89 472.19,334.47 475.41,334.84 C478.62,335.20 482.46,335.20 488.04,335.47 C493.61,335.73 503.14,335.79 508.84,336.41 C514.54,337.03 517.76,338.39 522.21,339.17 C526.67,339.96 529.02,340.48 535.59,341.12 C542.15,341.76 557.26,342.69 561.59,343.00" fill="none" stroke="#e8141e" stroke-width="2.0" stroke-linejoin="round" clip-path="url(#c18)"/>
<rect x="488.00" y="28.75" width="72.50" height="34.25" fill="none" stroke="#1a1a1a" stroke-width="1.5"/>
<line x1="498.40" y1="38.95" x2="513.10" y2="38.95" stroke="#22358f" stroke-width="2.3"/>
<line x1="499.00" y1="51.50" x2="513.70" y2="51.50" stroke="#e8141e" stroke-width="2.3"/>
<text x="518.00" y="42.30" font-size="11.5" text-anchor="start" textLength="23" lengthAdjust="spacingAndGlyphs" stroke="#353535" stroke-width="0.18">ASD</text>
<text x="518.00" y="56.10" font-size="11.5" text-anchor="start" textLength="37.2" lengthAdjust="spacingAndGlyphs" stroke="#353535" stroke-width="0.18">CNTRL</text>
<line x1="378.30" y1="407.00" x2="378.30" y2="550.90" stroke="#4a4a4a" stroke-width="1"/>
<line x1="377.80" y1="550.40" x2="565.90" y2="550.40" stroke="#4a4a4a" stroke-width="1"/>
<line x1="378.30" y1="550.40" x2="380.80" y2="550.40" stroke="#4a4a4a" stroke-width="1"/>
<text x="374.50" y="552.90" font-size="12" text-anchor="end" stroke="#353535" stroke-width="0.18">0</text>
<line x1="378.30" y1="532.55" x2="380.80" y2="532.55" stroke="#4a4a4a" stroke-width="1"/>
<text x="374.50" y="535.05" font-size="12" text-anchor="end" stroke="#353535" stroke-width="0.18">10</text>
<line x1="378.30" y1="514.70" x2="380.80" y2="514.70" stroke="#4a4a4a" stroke-width="1"/>
<text x="374.50" y="517.20" font-size="12" text-anchor="end" stroke="#353535" stroke-width="0.18">20</text>
<line x1="378.30" y1="496.85" x2="380.80" y2="496.85" stroke="#4a4a4a" stroke-width="1"/>
<text x="374.50" y="499.35" font-size="12" text-anchor="end" stroke="#353535" stroke-width="0.18">30</text>
<line x1="378.30" y1="479.00" x2="380.80" y2="479.00" stroke="#4a4a4a" stroke-width="1"/>
<text x="374.50" y="481.50" font-size="12" text-anchor="end" stroke="#353535" stroke-width="0.18">40</text>
<line x1="378.30" y1="461.15" x2="380.80" y2="461.15" stroke="#4a4a4a" stroke-width="1"/>
<text x="374.50" y="463.65" font-size="12" text-anchor="end" stroke="#353535" stroke-width="0.18">50</text>
<line x1="378.30" y1="443.30" x2="380.80" y2="443.30" stroke="#4a4a4a" stroke-width="1"/>
<text x="374.50" y="445.80" font-size="12" text-anchor="end" stroke="#353535" stroke-width="0.18">60</text>
<line x1="378.30" y1="425.45" x2="380.80" y2="425.45" stroke="#4a4a4a" stroke-width="1"/>
<text x="374.50" y="427.95" font-size="12" text-anchor="end" stroke="#353535" stroke-width="0.18">70</text>
<line x1="378.30" y1="407.60" x2="380.80" y2="407.60" stroke="#4a4a4a" stroke-width="1"/>
<text x="374.50" y="410.10" font-size="12" text-anchor="end" stroke="#353535" stroke-width="0.18">80</text>
<text x="354.60" y="475.00" font-size="13.5" text-anchor="middle" textLength="98" lengthAdjust="spacingAndGlyphs" transform="rotate(-90 354.60 475.00)" stroke="#353535" stroke-width="0.18">Peak Alpha Ratio</text>
<rect x="400.90" y="541.48" width="21.50" height="8.92" fill="#26359a" stroke="#222" stroke-width="0.9"/>
<rect x="427.80" y="523.98" width="21.80" height="26.42" fill="#e5151f" stroke="#222" stroke-width="0.9"/>
<rect x="495.20" y="537.90" width="21.20" height="12.50" fill="#26359a" stroke="#222" stroke-width="0.9"/>
<rect x="521.60" y="525.05" width="22.10" height="25.35" fill="#e5151f" stroke="#222" stroke-width="0.9"/>
<line x1="438.70" y1="512.60" x2="438.70" y2="535.80" stroke="#aaaaaa" stroke-width="1.1"/>
<line x1="506.00" y1="529.20" x2="506.00" y2="546.50" stroke="#777777" stroke-width="1.1"/>
<line x1="532.60" y1="516.40" x2="532.60" y2="534.00" stroke="#999999" stroke-width="1.1"/>
<line x1="412.00" y1="534.50" x2="412.00" y2="548.50" stroke="#777777" stroke-width="1.0"/>
<circle cx="435.8" cy="421.1" r="1.95" fill="#1a1a1a"/>
<circle cx="443.2" cy="498.0" r="1.95" fill="#1a1a1a"/>
<circle cx="439.6" cy="503.2" r="1.95" fill="#1a1a1a"/>
<circle cx="438.7" cy="505.6" r="1.95" fill="#1a1a1a"/>
<circle cx="436.1" cy="508.6" r="1.95" fill="#1a1a1a"/>
<circle cx="433.9" cy="513.4" r="1.95" fill="#1a1a1a"/>
<circle cx="442.1" cy="518.2" r="1.95" fill="#1a1a1a"/>
<circle cx="440.6" cy="521.6" r="1.95" fill="#1a1a1a"/>
<circle cx="439.1" cy="523.9" r="1.95" fill="#1a1a1a"/>
<circle cx="438.4" cy="526.9" r="1.95" fill="#1a1a1a"/>
<circle cx="442.1" cy="529.9" r="1.95" fill="#1a1a1a"/>
<circle cx="434.7" cy="541.5" r="1.95" fill="#1a1a1a"/>
<circle cx="442.6" cy="539.1" r="1.95" fill="#1a1a1a"/>
<circle cx="442.6" cy="542.6" r="1.95" fill="#1a1a1a"/>
<circle cx="440.6" cy="544.8" r="1.95" fill="#1a1a1a"/>
<circle cx="439.1" cy="547.8" r="1.95" fill="#1a1a1a"/>
<circle cx="441.5" cy="535.5" r="1.95" fill="#1a1a1a"/>
<circle cx="438.0" cy="533.0" r="1.95" fill="#1a1a1a"/>
<circle cx="417.5" cy="538.5" r="3.3" fill="#f2f7d6" opacity="0.85"/>
<circle cx="416.7" cy="537.3" r="2.3" fill="#c2e6ea"/>
<circle cx="416.7" cy="537.3" r="1.55" fill="#3f7db5"/>
<circle cx="409.3" cy="543.8" r="3.3" fill="#f2f7d6" opacity="0.85"/>
<circle cx="408.5" cy="542.6" r="2.3" fill="#c2e6ea"/>
<circle cx="408.5" cy="542.6" r="1.55" fill="#3f7db5"/>
<circle cx="415.0" cy="544.8" r="3.3" fill="#f2f7d6" opacity="0.85"/>
<circle cx="414.2" cy="543.6" r="2.3" fill="#c2e6ea"/>
<circle cx="414.2" cy="543.6" r="1.55" fill="#3f7db5"/>
<circle cx="415.5" cy="531.6" r="1.95" fill="#1a1a1a"/>
<circle cx="413.7" cy="535.1" r="1.95" fill="#1a1a1a"/>
<circle cx="412.2" cy="537.3" r="1.95" fill="#1a1a1a"/>
<circle cx="409.2" cy="547.1" r="1.95" fill="#1a1a1a"/>
<circle cx="412.7" cy="547.8" r="1.95" fill="#1a1a1a"/>
<circle cx="410.5" cy="545.0" r="1.95" fill="#1a1a1a"/>
<circle cx="415.5" cy="546.5" r="1.95" fill="#1a1a1a"/>
<circle cx="416.7" cy="537.3" r="1.5" fill="#4a8cc0"/>
<circle cx="408.5" cy="542.6" r="1.5" fill="#4a8cc0"/>
<circle cx="414.2" cy="543.6" r="1.5" fill="#4a8cc0"/>
<circle cx="503.5" cy="513.6" r="3.3" fill="#f2f7d6" opacity="0.85"/>
<circle cx="502.7" cy="512.4" r="2.3" fill="#c2e6ea"/>
<circle cx="502.7" cy="512.4" r="1.55" fill="#3f7db5"/>
<circle cx="509.8" cy="503.4" r="3.3" fill="#f2f7d6" opacity="0.85"/>
<circle cx="509.0" cy="502.2" r="2.3" fill="#c2e6ea"/>
<circle cx="509.0" cy="502.2" r="1.55" fill="#3f7db5"/>
<circle cx="506.0" cy="520.6" r="1.95" fill="#1a1a1a"/>
<circle cx="501.5" cy="540.4" r="1.95" fill="#1a1a1a"/>
<circle cx="504.5" cy="544.9" r="1.95" fill="#1a1a1a"/>
<circle cx="507.5" cy="543.4" r="1.95" fill="#1a1a1a"/>
<circle cx="502.2" cy="547.1" r="1.95" fill="#1a1a1a"/>
<circle cx="508.2" cy="547.1" r="1.95" fill="#1a1a1a"/>
<circle cx="506.5" cy="540.0" r="1.95" fill="#1a1a1a"/>
<circle cx="533.6" cy="418.6" r="1.95" fill="#1a1a1a"/>
<circle cx="532.8" cy="468.7" r="1.95" fill="#1a1a1a"/>
<circle cx="533.2" cy="506.0" r="1.95" fill="#1a1a1a"/>
<circle cx="533.2" cy="509.2" r="1.95" fill="#1a1a1a"/>
<circle cx="528.7" cy="515.7" r="1.95" fill="#1a1a1a"/>
<circle cx="537.1" cy="516.1" r="1.95" fill="#1a1a1a"/>
<circle cx="532.6" cy="518.2" r="1.95" fill="#1a1a1a"/>
<circle cx="529.9" cy="526.9" r="1.95" fill="#1a1a1a"/>
<circle cx="535.9" cy="526.2" r="1.95" fill="#1a1a1a"/>
<circle cx="528.4" cy="531.4" r="1.95" fill="#1a1a1a"/>
<circle cx="532.9" cy="532.9" r="1.95" fill="#1a1a1a"/>
<circle cx="535.9" cy="534.4" r="1.95" fill="#1a1a1a"/>
<circle cx="529.9" cy="536.6" r="1.95" fill="#1a1a1a"/>
<circle cx="534.4" cy="538.9" r="1.95" fill="#1a1a1a"/>
<circle cx="529.2" cy="540.4" r="1.95" fill="#1a1a1a"/>
<circle cx="535.9" cy="543.4" r="1.95" fill="#1a1a1a"/>
<circle cx="528.4" cy="544.9" r="1.95" fill="#1a1a1a"/>
<circle cx="532.9" cy="529.2" r="1.95" fill="#1a1a1a"/>
<circle cx="528.4" cy="547.4" r="1.95" fill="#1a1a1a"/>
<circle cx="531.5" cy="523.5" r="1.95" fill="#1a1a1a"/>
<line x1="425.20" y1="550.40" x2="425.20" y2="548.20" stroke="#4a4a4a" stroke-width="1"/>
<line x1="519.00" y1="550.40" x2="519.00" y2="548.20" stroke="#4a4a4a" stroke-width="1"/>
<text x="426.00" y="563.20" font-size="12.2" text-anchor="middle" font-weight="bold" textLength="47.4" lengthAdjust="spacingAndGlyphs" fill="#111" stroke="#111" stroke-width="0.18">Training</text>
<text x="524.35" y="563.20" font-size="12.2" text-anchor="middle" font-weight="bold" textLength="58.3" lengthAdjust="spacingAndGlyphs" fill="#111" stroke="#111" stroke-width="0.18">Validation</text>
</svg>
</body></html>
